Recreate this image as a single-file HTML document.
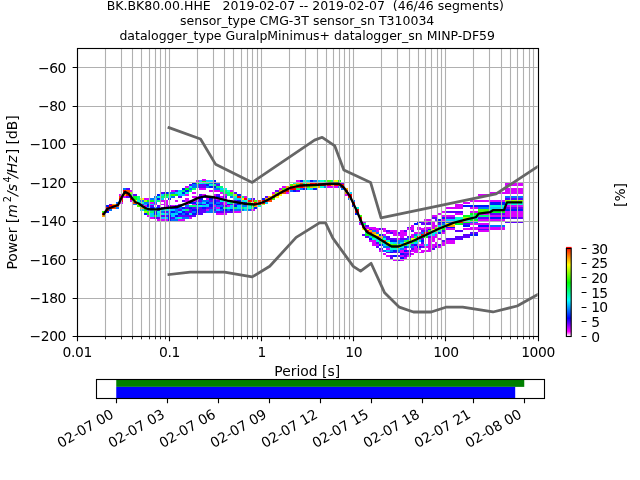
<!DOCTYPE html>
<html lang="en"><head><meta charset="utf-8"><title>PPSD BK.BK80.00.HHE</title>
<style>html,body{margin:0;padding:0;background:#fff;overflow:hidden}svg{display:block}</style></head>
<body>
<svg width="640" height="480" viewBox="0 0 640 480" font-family="DejaVu Sans, Liberation Sans, sans-serif" font-size="13.89px" fill="#000">
<rect width="640" height="480" fill="#fff"/>
<defs><clipPath id="ac"><rect x="76.8" y="48.0" width="460.8" height="288.0"/></clipPath>
<linearGradient id="cg" x1="0" y1="1" x2="0" y2="0"><stop offset="0" stop-color="#ffffff"/><stop offset="0.05" stop-color="#ff00ff"/><stop offset="0.2" stop-color="#0000ff"/><stop offset="0.4" stop-color="#00ffff"/><stop offset="0.6" stop-color="#00ff00"/><stop offset="0.8" stop-color="#ffff00"/><stop offset="1" stop-color="#ff0000"/></linearGradient></defs>
<g clip-path="url(#ac)" shape-rendering="crispEdges">
<rect x="101.90" y="213.12" width="3.52" height="1.97" fill="#ff0000"/>
<rect x="101.90" y="211.20" width="3.52" height="1.97" fill="#43ff00"/>
<rect x="101.90" y="215.04" width="3.52" height="1.97" fill="#ffa600"/>
<rect x="105.37" y="207.36" width="3.52" height="1.97" fill="#ff0000"/>
<rect x="105.37" y="209.28" width="3.52" height="1.97" fill="#ff0000"/>
<rect x="105.37" y="205.44" width="3.52" height="1.97" fill="#0016ff"/>
<rect x="105.37" y="211.20" width="3.52" height="1.97" fill="#0016ff"/>
<rect x="108.84" y="205.44" width="3.52" height="1.97" fill="#ff0000"/>
<rect x="108.84" y="207.36" width="3.52" height="1.97" fill="#ff0000"/>
<rect x="108.84" y="203.52" width="3.52" height="1.97" fill="#5e00ff"/>
<rect x="108.84" y="209.28" width="3.52" height="1.97" fill="#0073ff"/>
<rect x="112.30" y="205.44" width="3.52" height="1.97" fill="#ff0000"/>
<rect x="112.30" y="207.36" width="3.52" height="1.97" fill="#ff4a00"/>
<rect x="112.30" y="203.52" width="3.52" height="1.97" fill="#ffa600"/>
<rect x="115.77" y="203.52" width="3.52" height="1.97" fill="#ff0000"/>
<rect x="115.77" y="205.44" width="3.52" height="1.97" fill="#ff4a00"/>
<rect x="115.77" y="201.60" width="3.52" height="1.97" fill="#0073ff"/>
<rect x="115.77" y="207.36" width="3.52" height="1.97" fill="#0073ff"/>
<rect x="119.24" y="195.84" width="3.52" height="1.97" fill="#ff4a00"/>
<rect x="119.24" y="197.76" width="3.52" height="1.97" fill="#ff0000"/>
<rect x="119.24" y="199.68" width="3.52" height="1.97" fill="#ff0000"/>
<rect x="119.24" y="193.92" width="3.52" height="1.97" fill="#d900ff"/>
<rect x="119.24" y="201.60" width="3.52" height="1.97" fill="#d900ff"/>
<rect x="122.71" y="190.08" width="3.52" height="1.97" fill="#ff0000"/>
<rect x="122.71" y="192.00" width="3.52" height="1.97" fill="#ff0000"/>
<rect x="122.71" y="193.92" width="3.52" height="1.97" fill="#ffa600"/>
<rect x="122.71" y="188.16" width="3.52" height="1.97" fill="#0073ff"/>
<rect x="122.71" y="195.84" width="3.52" height="1.97" fill="#d900ff"/>
<rect x="126.18" y="190.08" width="3.52" height="1.97" fill="#ff4a00"/>
<rect x="126.18" y="192.00" width="3.52" height="1.97" fill="#ff4a00"/>
<rect x="126.18" y="193.92" width="3.52" height="1.97" fill="#ff0000"/>
<rect x="126.18" y="188.16" width="3.52" height="1.97" fill="#5e00ff"/>
<rect x="126.18" y="195.84" width="3.52" height="1.97" fill="#5e00ff"/>
<rect x="129.64" y="192.00" width="3.52" height="1.97" fill="#9fff00"/>
<rect x="129.64" y="195.84" width="3.52" height="1.97" fill="#9fff00"/>
<rect x="129.64" y="197.76" width="3.52" height="1.97" fill="#ff0000"/>
<rect x="129.64" y="190.08" width="3.52" height="1.97" fill="#d900ff"/>
<rect x="129.64" y="193.92" width="3.52" height="1.97" fill="#00ff76"/>
<rect x="129.64" y="199.68" width="3.52" height="1.97" fill="#d900ff"/>
<rect x="133.11" y="195.84" width="3.52" height="1.97" fill="#00ff1a"/>
<rect x="133.11" y="199.68" width="3.52" height="1.97" fill="#fbff00"/>
<rect x="133.11" y="201.60" width="3.52" height="1.97" fill="#ff4a00"/>
<rect x="133.11" y="193.92" width="3.52" height="1.97" fill="#5e00ff"/>
<rect x="133.11" y="197.76" width="3.52" height="1.97" fill="#00ff1a"/>
<rect x="133.11" y="203.52" width="3.52" height="1.97" fill="#0073ff"/>
<rect x="136.58" y="197.76" width="3.52" height="1.97" fill="#00ff76"/>
<rect x="136.58" y="201.60" width="3.52" height="1.97" fill="#00ffd3"/>
<rect x="136.58" y="203.52" width="3.52" height="1.97" fill="#fbff00"/>
<rect x="136.58" y="205.44" width="3.52" height="1.97" fill="#43ff00"/>
<rect x="136.58" y="195.84" width="3.52" height="1.97" fill="#00ff76"/>
<rect x="136.58" y="199.68" width="3.52" height="1.97" fill="#00ffd3"/>
<rect x="140.05" y="197.76" width="3.52" height="1.97" fill="#fbff00"/>
<rect x="140.05" y="201.60" width="3.52" height="1.97" fill="#00ffd3"/>
<rect x="140.05" y="207.36" width="3.52" height="1.97" fill="#ffa600"/>
<rect x="140.05" y="205.44" width="3.52" height="1.97" fill="#00ffd3"/>
<rect x="140.05" y="203.52" width="3.52" height="1.97" fill="#5e00ff"/>
<rect x="140.05" y="209.28" width="3.52" height="1.97" fill="#00cfff"/>
<rect x="140.05" y="199.68" width="3.52" height="1.97" fill="#0073ff"/>
<rect x="143.51" y="199.68" width="3.52" height="1.97" fill="#9fff00"/>
<rect x="143.51" y="203.52" width="3.52" height="1.97" fill="#00cfff"/>
<rect x="143.51" y="209.28" width="3.52" height="1.97" fill="#00ff1a"/>
<rect x="143.51" y="211.20" width="3.52" height="1.97" fill="#9fff00"/>
<rect x="143.51" y="207.36" width="3.52" height="1.97" fill="#0073ff"/>
<rect x="143.51" y="201.60" width="3.52" height="1.97" fill="#0073ff"/>
<rect x="143.51" y="205.44" width="3.52" height="1.97" fill="#d900ff"/>
<rect x="143.51" y="197.76" width="3.52" height="1.97" fill="#d900ff"/>
<rect x="143.51" y="213.12" width="3.52" height="1.97" fill="#0016ff"/>
<rect x="146.98" y="201.60" width="3.52" height="1.97" fill="#0073ff"/>
<rect x="146.98" y="205.44" width="3.52" height="1.97" fill="#0016ff"/>
<rect x="146.98" y="209.28" width="3.52" height="1.97" fill="#0073ff"/>
<rect x="146.98" y="211.20" width="3.52" height="1.97" fill="#43ff00"/>
<rect x="146.98" y="213.12" width="3.52" height="1.97" fill="#00ff1a"/>
<rect x="146.98" y="199.68" width="3.52" height="1.97" fill="#00ff1a"/>
<rect x="146.98" y="207.36" width="3.52" height="1.97" fill="#00cfff"/>
<rect x="146.98" y="203.52" width="3.52" height="1.97" fill="#0016ff"/>
<rect x="146.98" y="197.76" width="3.52" height="1.97" fill="#d900ff"/>
<rect x="146.98" y="215.04" width="3.52" height="1.97" fill="#d900ff"/>
<rect x="150.45" y="199.68" width="3.52" height="1.97" fill="#00ff1a"/>
<rect x="150.45" y="207.36" width="3.52" height="1.97" fill="#0016ff"/>
<rect x="150.45" y="209.28" width="3.52" height="1.97" fill="#00cfff"/>
<rect x="150.45" y="205.44" width="3.52" height="1.97" fill="#5e00ff"/>
<rect x="150.45" y="211.20" width="3.52" height="1.97" fill="#00ff76"/>
<rect x="150.45" y="213.12" width="3.52" height="1.97" fill="#00cfff"/>
<rect x="150.45" y="197.76" width="3.52" height="1.97" fill="#0073ff"/>
<rect x="150.45" y="215.04" width="3.52" height="1.97" fill="#00cfff"/>
<rect x="150.45" y="203.52" width="3.52" height="1.97" fill="#00cfff"/>
<rect x="150.45" y="201.60" width="3.52" height="1.97" fill="#d900ff"/>
<rect x="150.45" y="216.96" width="3.52" height="1.97" fill="#d900ff"/>
<rect x="153.92" y="197.76" width="3.52" height="1.97" fill="#00cfff"/>
<rect x="153.92" y="201.60" width="3.52" height="1.97" fill="#0073ff"/>
<rect x="153.92" y="209.28" width="3.52" height="1.97" fill="#00ff76"/>
<rect x="153.92" y="207.36" width="3.52" height="1.97" fill="#0073ff"/>
<rect x="153.92" y="213.12" width="3.52" height="1.97" fill="#0016ff"/>
<rect x="153.92" y="195.84" width="3.52" height="1.97" fill="#0073ff"/>
<rect x="153.92" y="199.68" width="3.52" height="1.97" fill="#00cfff"/>
<rect x="153.92" y="211.20" width="3.52" height="1.97" fill="#0016ff"/>
<rect x="153.92" y="215.04" width="3.52" height="1.97" fill="#00ff1a"/>
<rect x="153.92" y="203.52" width="3.52" height="1.97" fill="#d900ff"/>
<rect x="153.92" y="216.96" width="3.52" height="1.97" fill="#5e00ff"/>
<rect x="157.39" y="195.84" width="3.52" height="1.97" fill="#00ffd3"/>
<rect x="157.39" y="199.68" width="3.52" height="1.97" fill="#00ff76"/>
<rect x="157.39" y="205.44" width="3.52" height="1.97" fill="#5e00ff"/>
<rect x="157.39" y="211.20" width="3.52" height="1.97" fill="#00ffd3"/>
<rect x="157.39" y="213.12" width="3.52" height="1.97" fill="#00cfff"/>
<rect x="157.39" y="193.92" width="3.52" height="1.97" fill="#0016ff"/>
<rect x="157.39" y="197.76" width="3.52" height="1.97" fill="#0016ff"/>
<rect x="157.39" y="215.04" width="3.52" height="1.97" fill="#00cfff"/>
<rect x="157.39" y="207.36" width="3.52" height="1.97" fill="#0016ff"/>
<rect x="157.39" y="216.96" width="3.52" height="1.97" fill="#5e00ff"/>
<rect x="157.39" y="209.28" width="3.52" height="1.97" fill="#0016ff"/>
<rect x="157.39" y="218.88" width="3.52" height="1.97" fill="#d900ff"/>
<rect x="160.85" y="195.84" width="3.52" height="1.97" fill="#00ff76"/>
<rect x="160.85" y="203.52" width="3.52" height="1.97" fill="#d900ff"/>
<rect x="160.85" y="199.68" width="3.52" height="1.97" fill="#d900ff"/>
<rect x="160.85" y="209.28" width="3.52" height="1.97" fill="#00cfff"/>
<rect x="160.85" y="213.12" width="3.52" height="1.97" fill="#00ffd3"/>
<rect x="160.85" y="192.00" width="3.52" height="1.97" fill="#5e00ff"/>
<rect x="160.85" y="197.76" width="3.52" height="1.97" fill="#00cfff"/>
<rect x="160.85" y="215.04" width="3.52" height="1.97" fill="#5e00ff"/>
<rect x="160.85" y="207.36" width="3.52" height="1.97" fill="#5e00ff"/>
<rect x="160.85" y="211.20" width="3.52" height="1.97" fill="#0073ff"/>
<rect x="160.85" y="216.96" width="3.52" height="1.97" fill="#00cfff"/>
<rect x="160.85" y="193.92" width="3.52" height="1.97" fill="#00cfff"/>
<rect x="160.85" y="218.88" width="3.52" height="1.97" fill="#d900ff"/>
<rect x="164.32" y="195.84" width="3.52" height="1.97" fill="#00ff76"/>
<rect x="164.32" y="201.60" width="3.52" height="1.97" fill="#d900ff"/>
<rect x="164.32" y="193.92" width="3.52" height="1.97" fill="#00ff1a"/>
<rect x="164.32" y="209.28" width="3.52" height="1.97" fill="#00ffd3"/>
<rect x="164.32" y="215.04" width="3.52" height="1.97" fill="#5e00ff"/>
<rect x="164.32" y="192.00" width="3.52" height="1.97" fill="#0016ff"/>
<rect x="164.32" y="199.68" width="3.52" height="1.97" fill="#d900ff"/>
<rect x="164.32" y="213.12" width="3.52" height="1.97" fill="#00cfff"/>
<rect x="164.32" y="216.96" width="3.52" height="1.97" fill="#00cfff"/>
<rect x="164.32" y="207.36" width="3.52" height="1.97" fill="#0016ff"/>
<rect x="164.32" y="203.52" width="3.52" height="1.97" fill="#d900ff"/>
<rect x="164.32" y="211.20" width="3.52" height="1.97" fill="#5e00ff"/>
<rect x="164.32" y="218.88" width="3.52" height="1.97" fill="#d900ff"/>
<rect x="164.32" y="205.44" width="3.52" height="1.97" fill="#d900ff"/>
<rect x="167.79" y="193.92" width="3.52" height="1.97" fill="#00ff76"/>
<rect x="167.79" y="195.84" width="3.52" height="1.97" fill="#00ffd3"/>
<rect x="167.79" y="209.28" width="3.52" height="1.97" fill="#00cfff"/>
<rect x="167.79" y="215.04" width="3.52" height="1.97" fill="#0016ff"/>
<rect x="167.79" y="192.00" width="3.52" height="1.97" fill="#0073ff"/>
<rect x="167.79" y="197.76" width="3.52" height="1.97" fill="#0016ff"/>
<rect x="167.79" y="213.12" width="3.52" height="1.97" fill="#0073ff"/>
<rect x="167.79" y="218.88" width="3.52" height="1.97" fill="#0016ff"/>
<rect x="167.79" y="207.36" width="3.52" height="1.97" fill="#5e00ff"/>
<rect x="167.79" y="205.44" width="3.52" height="1.97" fill="#5e00ff"/>
<rect x="167.79" y="216.96" width="3.52" height="1.97" fill="#0016ff"/>
<rect x="167.79" y="211.20" width="3.52" height="1.97" fill="#0073ff"/>
<rect x="171.26" y="195.84" width="3.52" height="1.97" fill="#0073ff"/>
<rect x="171.26" y="192.00" width="3.52" height="1.97" fill="#0073ff"/>
<rect x="171.26" y="207.36" width="3.52" height="1.97" fill="#0016ff"/>
<rect x="171.26" y="213.12" width="3.52" height="1.97" fill="#00cfff"/>
<rect x="171.26" y="215.04" width="3.52" height="1.97" fill="#00cfff"/>
<rect x="171.26" y="193.92" width="3.52" height="1.97" fill="#43ff00"/>
<rect x="171.26" y="216.96" width="3.52" height="1.97" fill="#5e00ff"/>
<rect x="171.26" y="218.88" width="3.52" height="1.97" fill="#0073ff"/>
<rect x="171.26" y="209.28" width="3.52" height="1.97" fill="#00cfff"/>
<rect x="171.26" y="211.20" width="3.52" height="1.97" fill="#0016ff"/>
<rect x="171.26" y="190.08" width="3.52" height="1.97" fill="#d900ff"/>
<rect x="171.26" y="205.44" width="3.52" height="1.97" fill="#d900ff"/>
<rect x="174.73" y="199.68" width="3.52" height="1.97" fill="#d900ff"/>
<rect x="174.73" y="209.28" width="3.52" height="1.97" fill="#0073ff"/>
<rect x="174.73" y="192.00" width="3.52" height="1.97" fill="#00cfff"/>
<rect x="174.73" y="207.36" width="3.52" height="1.97" fill="#0016ff"/>
<rect x="174.73" y="213.12" width="3.52" height="1.97" fill="#00cfff"/>
<rect x="174.73" y="205.44" width="3.52" height="1.97" fill="#5e00ff"/>
<rect x="174.73" y="193.92" width="3.52" height="1.97" fill="#00ff1a"/>
<rect x="174.73" y="211.20" width="3.52" height="1.97" fill="#0073ff"/>
<rect x="174.73" y="216.96" width="3.52" height="1.97" fill="#00cfff"/>
<rect x="174.73" y="218.88" width="3.52" height="1.97" fill="#0073ff"/>
<rect x="174.73" y="215.04" width="3.52" height="1.97" fill="#0016ff"/>
<rect x="174.73" y="190.08" width="3.52" height="1.97" fill="#5e00ff"/>
<rect x="178.19" y="205.44" width="3.52" height="1.97" fill="#0073ff"/>
<rect x="178.19" y="192.00" width="3.52" height="1.97" fill="#00ffd3"/>
<rect x="178.19" y="195.84" width="3.52" height="1.97" fill="#5e00ff"/>
<rect x="178.19" y="211.20" width="3.52" height="1.97" fill="#00cfff"/>
<rect x="178.19" y="213.12" width="3.52" height="1.97" fill="#0016ff"/>
<rect x="178.19" y="190.08" width="3.52" height="1.97" fill="#00cfff"/>
<rect x="178.19" y="193.92" width="3.52" height="1.97" fill="#00cfff"/>
<rect x="178.19" y="207.36" width="3.52" height="1.97" fill="#0073ff"/>
<rect x="178.19" y="215.04" width="3.52" height="1.97" fill="#5e00ff"/>
<rect x="178.19" y="216.96" width="3.52" height="1.97" fill="#00ffd3"/>
<rect x="178.19" y="203.52" width="3.52" height="1.97" fill="#d900ff"/>
<rect x="178.19" y="209.28" width="3.52" height="1.97" fill="#5e00ff"/>
<rect x="178.19" y="218.88" width="3.52" height="1.97" fill="#d900ff"/>
<rect x="181.66" y="193.92" width="3.52" height="1.97" fill="#00cfff"/>
<rect x="181.66" y="203.52" width="3.52" height="1.97" fill="#0073ff"/>
<rect x="181.66" y="190.08" width="3.52" height="1.97" fill="#00ff76"/>
<rect x="181.66" y="192.00" width="3.52" height="1.97" fill="#0016ff"/>
<rect x="181.66" y="209.28" width="3.52" height="1.97" fill="#00cfff"/>
<rect x="181.66" y="213.12" width="3.52" height="1.97" fill="#0073ff"/>
<rect x="181.66" y="188.16" width="3.52" height="1.97" fill="#0016ff"/>
<rect x="181.66" y="199.68" width="3.52" height="1.97" fill="#5e00ff"/>
<rect x="181.66" y="215.04" width="3.52" height="1.97" fill="#5e00ff"/>
<rect x="181.66" y="216.96" width="3.52" height="1.97" fill="#0073ff"/>
<rect x="181.66" y="207.36" width="3.52" height="1.97" fill="#0016ff"/>
<rect x="181.66" y="211.20" width="3.52" height="1.97" fill="#0016ff"/>
<rect x="181.66" y="218.88" width="3.52" height="1.97" fill="#d900ff"/>
<rect x="185.13" y="197.76" width="3.52" height="1.97" fill="#d900ff"/>
<rect x="185.13" y="209.28" width="3.52" height="1.97" fill="#00ff76"/>
<rect x="185.13" y="188.16" width="3.52" height="1.97" fill="#00ff1a"/>
<rect x="185.13" y="192.00" width="3.52" height="1.97" fill="#00ffd3"/>
<rect x="185.13" y="203.52" width="3.52" height="1.97" fill="#d900ff"/>
<rect x="185.13" y="213.12" width="3.52" height="1.97" fill="#0016ff"/>
<rect x="185.13" y="205.44" width="3.52" height="1.97" fill="#0073ff"/>
<rect x="185.13" y="190.08" width="3.52" height="1.97" fill="#0016ff"/>
<rect x="185.13" y="207.36" width="3.52" height="1.97" fill="#5e00ff"/>
<rect x="185.13" y="215.04" width="3.52" height="1.97" fill="#5e00ff"/>
<rect x="185.13" y="216.96" width="3.52" height="1.97" fill="#0073ff"/>
<rect x="185.13" y="211.20" width="3.52" height="1.97" fill="#5e00ff"/>
<rect x="185.13" y="186.24" width="3.52" height="1.97" fill="#d900ff"/>
<rect x="185.13" y="199.68" width="3.52" height="1.97" fill="#d900ff"/>
<rect x="185.13" y="193.92" width="3.52" height="1.97" fill="#d900ff"/>
<rect x="188.60" y="205.44" width="3.52" height="1.97" fill="#00ff76"/>
<rect x="188.60" y="201.60" width="3.52" height="1.97" fill="#0016ff"/>
<rect x="188.60" y="190.08" width="3.52" height="1.97" fill="#00ff76"/>
<rect x="188.60" y="213.12" width="3.52" height="1.97" fill="#00ffd3"/>
<rect x="188.60" y="188.16" width="3.52" height="1.97" fill="#0073ff"/>
<rect x="188.60" y="186.24" width="3.52" height="1.97" fill="#00ffd3"/>
<rect x="188.60" y="209.28" width="3.52" height="1.97" fill="#5e00ff"/>
<rect x="188.60" y="207.36" width="3.52" height="1.97" fill="#0016ff"/>
<rect x="188.60" y="211.20" width="3.52" height="1.97" fill="#5e00ff"/>
<rect x="188.60" y="215.04" width="3.52" height="1.97" fill="#5e00ff"/>
<rect x="188.60" y="184.32" width="3.52" height="1.97" fill="#5e00ff"/>
<rect x="188.60" y="216.96" width="3.52" height="1.97" fill="#d900ff"/>
<rect x="188.60" y="199.68" width="3.52" height="1.97" fill="#d900ff"/>
<rect x="192.06" y="201.60" width="3.52" height="1.97" fill="#0016ff"/>
<rect x="192.06" y="188.16" width="3.52" height="1.97" fill="#00ff76"/>
<rect x="192.06" y="211.20" width="3.52" height="1.97" fill="#0073ff"/>
<rect x="192.06" y="186.24" width="3.52" height="1.97" fill="#0073ff"/>
<rect x="192.06" y="205.44" width="3.52" height="1.97" fill="#00ff76"/>
<rect x="192.06" y="213.12" width="3.52" height="1.97" fill="#0016ff"/>
<rect x="192.06" y="199.68" width="3.52" height="1.97" fill="#d900ff"/>
<rect x="192.06" y="209.28" width="3.52" height="1.97" fill="#0016ff"/>
<rect x="192.06" y="207.36" width="3.52" height="1.97" fill="#5e00ff"/>
<rect x="192.06" y="184.32" width="3.52" height="1.97" fill="#0073ff"/>
<rect x="192.06" y="182.40" width="3.52" height="1.97" fill="#0016ff"/>
<rect x="192.06" y="203.52" width="3.52" height="1.97" fill="#d900ff"/>
<rect x="192.06" y="192.00" width="3.52" height="1.97" fill="#d900ff"/>
<rect x="192.06" y="195.84" width="3.52" height="1.97" fill="#d900ff"/>
<rect x="192.06" y="215.04" width="3.52" height="1.97" fill="#5e00ff"/>
<rect x="195.53" y="195.84" width="3.52" height="1.97" fill="#d900ff"/>
<rect x="195.53" y="197.76" width="3.52" height="1.97" fill="#d900ff"/>
<rect x="195.53" y="184.32" width="3.52" height="1.97" fill="#0073ff"/>
<rect x="195.53" y="186.24" width="3.52" height="1.97" fill="#0073ff"/>
<rect x="195.53" y="201.60" width="3.52" height="1.97" fill="#00cfff"/>
<rect x="195.53" y="205.44" width="3.52" height="1.97" fill="#00cfff"/>
<rect x="195.53" y="182.40" width="3.52" height="1.97" fill="#00ff1a"/>
<rect x="195.53" y="203.52" width="3.52" height="1.97" fill="#0016ff"/>
<rect x="195.53" y="211.20" width="3.52" height="1.97" fill="#0016ff"/>
<rect x="195.53" y="207.36" width="3.52" height="1.97" fill="#0073ff"/>
<rect x="195.53" y="209.28" width="3.52" height="1.97" fill="#0016ff"/>
<rect x="195.53" y="180.48" width="3.52" height="1.97" fill="#d900ff"/>
<rect x="195.53" y="199.68" width="3.52" height="1.97" fill="#5e00ff"/>
<rect x="195.53" y="213.12" width="3.52" height="1.97" fill="#5e00ff"/>
<rect x="199.00" y="188.16" width="3.52" height="1.97" fill="#d900ff"/>
<rect x="199.00" y="195.84" width="3.52" height="1.97" fill="#5e00ff"/>
<rect x="199.00" y="182.40" width="3.52" height="1.97" fill="#00ffd3"/>
<rect x="199.00" y="197.76" width="3.52" height="1.97" fill="#0016ff"/>
<rect x="199.00" y="205.44" width="3.52" height="1.97" fill="#00ffd3"/>
<rect x="199.00" y="180.48" width="3.52" height="1.97" fill="#00cfff"/>
<rect x="199.00" y="203.52" width="3.52" height="1.97" fill="#0016ff"/>
<rect x="199.00" y="186.24" width="3.52" height="1.97" fill="#5e00ff"/>
<rect x="199.00" y="193.92" width="3.52" height="1.97" fill="#5e00ff"/>
<rect x="199.00" y="209.28" width="3.52" height="1.97" fill="#5e00ff"/>
<rect x="199.00" y="207.36" width="3.52" height="1.97" fill="#5e00ff"/>
<rect x="199.00" y="201.60" width="3.52" height="1.97" fill="#0073ff"/>
<rect x="199.00" y="211.20" width="3.52" height="1.97" fill="#5e00ff"/>
<rect x="199.00" y="199.68" width="3.52" height="1.97" fill="#5e00ff"/>
<rect x="199.00" y="184.32" width="3.52" height="1.97" fill="#5e00ff"/>
<rect x="199.00" y="213.12" width="3.52" height="1.97" fill="#5e00ff"/>
<rect x="202.47" y="186.24" width="3.52" height="1.97" fill="#5e00ff"/>
<rect x="202.47" y="195.84" width="3.52" height="1.97" fill="#0016ff"/>
<rect x="202.47" y="182.40" width="3.52" height="1.97" fill="#00cfff"/>
<rect x="202.47" y="184.32" width="3.52" height="1.97" fill="#5e00ff"/>
<rect x="202.47" y="207.36" width="3.52" height="1.97" fill="#0016ff"/>
<rect x="202.47" y="180.48" width="3.52" height="1.97" fill="#00ff1a"/>
<rect x="202.47" y="203.52" width="3.52" height="1.97" fill="#5e00ff"/>
<rect x="202.47" y="193.92" width="3.52" height="1.97" fill="#d900ff"/>
<rect x="202.47" y="205.44" width="3.52" height="1.97" fill="#00cfff"/>
<rect x="202.47" y="201.60" width="3.52" height="1.97" fill="#00cfff"/>
<rect x="202.47" y="209.28" width="3.52" height="1.97" fill="#5e00ff"/>
<rect x="202.47" y="199.68" width="3.52" height="1.97" fill="#0073ff"/>
<rect x="202.47" y="178.56" width="3.52" height="1.97" fill="#d900ff"/>
<rect x="202.47" y="211.20" width="3.52" height="1.97" fill="#5e00ff"/>
<rect x="202.47" y="188.16" width="3.52" height="1.97" fill="#d900ff"/>
<rect x="205.94" y="199.68" width="3.52" height="1.97" fill="#0073ff"/>
<rect x="205.94" y="184.32" width="3.52" height="1.97" fill="#0016ff"/>
<rect x="205.94" y="182.40" width="3.52" height="1.97" fill="#00ff76"/>
<rect x="205.94" y="201.60" width="3.52" height="1.97" fill="#0016ff"/>
<rect x="205.94" y="207.36" width="3.52" height="1.97" fill="#5e00ff"/>
<rect x="205.94" y="180.48" width="3.52" height="1.97" fill="#00cfff"/>
<rect x="205.94" y="186.24" width="3.52" height="1.97" fill="#0073ff"/>
<rect x="205.94" y="205.44" width="3.52" height="1.97" fill="#00cfff"/>
<rect x="205.94" y="203.52" width="3.52" height="1.97" fill="#00cfff"/>
<rect x="205.94" y="209.28" width="3.52" height="1.97" fill="#d900ff"/>
<rect x="205.94" y="195.84" width="3.52" height="1.97" fill="#5e00ff"/>
<rect x="205.94" y="211.20" width="3.52" height="1.97" fill="#0073ff"/>
<rect x="205.94" y="197.76" width="3.52" height="1.97" fill="#d900ff"/>
<rect x="209.40" y="195.84" width="3.52" height="1.97" fill="#5e00ff"/>
<rect x="209.40" y="197.76" width="3.52" height="1.97" fill="#0016ff"/>
<rect x="209.40" y="184.32" width="3.52" height="1.97" fill="#00ffd3"/>
<rect x="209.40" y="182.40" width="3.52" height="1.97" fill="#0073ff"/>
<rect x="209.40" y="203.52" width="3.52" height="1.97" fill="#0016ff"/>
<rect x="209.40" y="209.28" width="3.52" height="1.97" fill="#0073ff"/>
<rect x="209.40" y="205.44" width="3.52" height="1.97" fill="#0016ff"/>
<rect x="209.40" y="199.68" width="3.52" height="1.97" fill="#5e00ff"/>
<rect x="209.40" y="207.36" width="3.52" height="1.97" fill="#5e00ff"/>
<rect x="209.40" y="201.60" width="3.52" height="1.97" fill="#0073ff"/>
<rect x="209.40" y="186.24" width="3.52" height="1.97" fill="#0016ff"/>
<rect x="209.40" y="180.48" width="3.52" height="1.97" fill="#00cfff"/>
<rect x="209.40" y="211.20" width="3.52" height="1.97" fill="#0073ff"/>
<rect x="209.40" y="190.08" width="3.52" height="1.97" fill="#d900ff"/>
<rect x="212.87" y="201.60" width="3.52" height="1.97" fill="#0016ff"/>
<rect x="212.87" y="197.76" width="3.52" height="1.97" fill="#5e00ff"/>
<rect x="212.87" y="186.24" width="3.52" height="1.97" fill="#0016ff"/>
<rect x="212.87" y="184.32" width="3.52" height="1.97" fill="#00ff76"/>
<rect x="212.87" y="199.68" width="3.52" height="1.97" fill="#0016ff"/>
<rect x="212.87" y="207.36" width="3.52" height="1.97" fill="#0073ff"/>
<rect x="212.87" y="203.52" width="3.52" height="1.97" fill="#0073ff"/>
<rect x="212.87" y="190.08" width="3.52" height="1.97" fill="#d900ff"/>
<rect x="212.87" y="209.28" width="3.52" height="1.97" fill="#5e00ff"/>
<rect x="212.87" y="188.16" width="3.52" height="1.97" fill="#0073ff"/>
<rect x="212.87" y="182.40" width="3.52" height="1.97" fill="#0016ff"/>
<rect x="212.87" y="180.48" width="3.52" height="1.97" fill="#0016ff"/>
<rect x="212.87" y="193.92" width="3.52" height="1.97" fill="#d900ff"/>
<rect x="212.87" y="211.20" width="3.52" height="1.97" fill="#0073ff"/>
<rect x="212.87" y="205.44" width="3.52" height="1.97" fill="#d900ff"/>
<rect x="212.87" y="195.84" width="3.52" height="1.97" fill="#d900ff"/>
<rect x="216.34" y="203.52" width="3.52" height="1.97" fill="#0016ff"/>
<rect x="216.34" y="199.68" width="3.52" height="1.97" fill="#5e00ff"/>
<rect x="216.34" y="186.24" width="3.52" height="1.97" fill="#00ff76"/>
<rect x="216.34" y="201.60" width="3.52" height="1.97" fill="#0073ff"/>
<rect x="216.34" y="209.28" width="3.52" height="1.97" fill="#00cfff"/>
<rect x="216.34" y="184.32" width="3.52" height="1.97" fill="#5e00ff"/>
<rect x="216.34" y="188.16" width="3.52" height="1.97" fill="#0073ff"/>
<rect x="216.34" y="195.84" width="3.52" height="1.97" fill="#0016ff"/>
<rect x="216.34" y="205.44" width="3.52" height="1.97" fill="#0073ff"/>
<rect x="216.34" y="190.08" width="3.52" height="1.97" fill="#d900ff"/>
<rect x="216.34" y="182.40" width="3.52" height="1.97" fill="#0073ff"/>
<rect x="216.34" y="207.36" width="3.52" height="1.97" fill="#d900ff"/>
<rect x="216.34" y="193.92" width="3.52" height="1.97" fill="#5e00ff"/>
<rect x="216.34" y="211.20" width="3.52" height="1.97" fill="#5e00ff"/>
<rect x="216.34" y="213.12" width="3.52" height="1.97" fill="#d900ff"/>
<rect x="216.34" y="197.76" width="3.52" height="1.97" fill="#d900ff"/>
<rect x="219.81" y="199.68" width="3.52" height="1.97" fill="#00ffd3"/>
<rect x="219.81" y="201.60" width="3.52" height="1.97" fill="#5e00ff"/>
<rect x="219.81" y="188.16" width="3.52" height="1.97" fill="#00cfff"/>
<rect x="219.81" y="190.08" width="3.52" height="1.97" fill="#00ff76"/>
<rect x="219.81" y="207.36" width="3.52" height="1.97" fill="#0016ff"/>
<rect x="219.81" y="186.24" width="3.52" height="1.97" fill="#00ff76"/>
<rect x="219.81" y="197.76" width="3.52" height="1.97" fill="#d900ff"/>
<rect x="219.81" y="205.44" width="3.52" height="1.97" fill="#0073ff"/>
<rect x="219.81" y="209.28" width="3.52" height="1.97" fill="#0073ff"/>
<rect x="219.81" y="192.00" width="3.52" height="1.97" fill="#d900ff"/>
<rect x="219.81" y="195.84" width="3.52" height="1.97" fill="#d900ff"/>
<rect x="219.81" y="203.52" width="3.52" height="1.97" fill="#5e00ff"/>
<rect x="219.81" y="211.20" width="3.52" height="1.97" fill="#5e00ff"/>
<rect x="219.81" y="213.12" width="3.52" height="1.97" fill="#d900ff"/>
<rect x="223.28" y="197.76" width="3.52" height="1.97" fill="#d900ff"/>
<rect x="223.28" y="199.68" width="3.52" height="1.97" fill="#00cfff"/>
<rect x="223.28" y="192.00" width="3.52" height="1.97" fill="#00ff76"/>
<rect x="223.28" y="207.36" width="3.52" height="1.97" fill="#00ff76"/>
<rect x="223.28" y="190.08" width="3.52" height="1.97" fill="#00ff76"/>
<rect x="223.28" y="195.84" width="3.52" height="1.97" fill="#5e00ff"/>
<rect x="223.28" y="205.44" width="3.52" height="1.97" fill="#5e00ff"/>
<rect x="223.28" y="203.52" width="3.52" height="1.97" fill="#d900ff"/>
<rect x="223.28" y="193.92" width="3.52" height="1.97" fill="#d900ff"/>
<rect x="223.28" y="209.28" width="3.52" height="1.97" fill="#0016ff"/>
<rect x="223.28" y="188.16" width="3.52" height="1.97" fill="#00ffd3"/>
<rect x="223.28" y="211.20" width="3.52" height="1.97" fill="#5e00ff"/>
<rect x="223.28" y="213.12" width="3.52" height="1.97" fill="#d900ff"/>
<rect x="223.28" y="201.60" width="3.52" height="1.97" fill="#d900ff"/>
<rect x="226.74" y="193.92" width="3.52" height="1.97" fill="#00ff76"/>
<rect x="226.74" y="199.68" width="3.52" height="1.97" fill="#0073ff"/>
<rect x="226.74" y="201.60" width="3.52" height="1.97" fill="#00ffd3"/>
<rect x="226.74" y="207.36" width="3.52" height="1.97" fill="#00ffd3"/>
<rect x="226.74" y="190.08" width="3.52" height="1.97" fill="#00ffd3"/>
<rect x="226.74" y="203.52" width="3.52" height="1.97" fill="#0016ff"/>
<rect x="226.74" y="209.28" width="3.52" height="1.97" fill="#0073ff"/>
<rect x="226.74" y="192.00" width="3.52" height="1.97" fill="#00ff76"/>
<rect x="226.74" y="205.44" width="3.52" height="1.97" fill="#d900ff"/>
<rect x="226.74" y="211.20" width="3.52" height="1.97" fill="#5e00ff"/>
<rect x="230.21" y="195.84" width="3.52" height="1.97" fill="#0073ff"/>
<rect x="230.21" y="203.52" width="3.52" height="1.97" fill="#5e00ff"/>
<rect x="230.21" y="201.60" width="3.52" height="1.97" fill="#00ff76"/>
<rect x="230.21" y="193.92" width="3.52" height="1.97" fill="#00ff76"/>
<rect x="230.21" y="207.36" width="3.52" height="1.97" fill="#00cfff"/>
<rect x="230.21" y="192.00" width="3.52" height="1.97" fill="#43ff00"/>
<rect x="230.21" y="205.44" width="3.52" height="1.97" fill="#00cfff"/>
<rect x="230.21" y="199.68" width="3.52" height="1.97" fill="#d900ff"/>
<rect x="230.21" y="209.28" width="3.52" height="1.97" fill="#0016ff"/>
<rect x="230.21" y="190.08" width="3.52" height="1.97" fill="#d900ff"/>
<rect x="230.21" y="211.20" width="3.52" height="1.97" fill="#5e00ff"/>
<rect x="233.68" y="197.76" width="3.52" height="1.97" fill="#00cfff"/>
<rect x="233.68" y="201.60" width="3.52" height="1.97" fill="#0073ff"/>
<rect x="233.68" y="193.92" width="3.52" height="1.97" fill="#9fff00"/>
<rect x="233.68" y="207.36" width="3.52" height="1.97" fill="#00ff76"/>
<rect x="233.68" y="205.44" width="3.52" height="1.97" fill="#0016ff"/>
<rect x="233.68" y="209.28" width="3.52" height="1.97" fill="#0073ff"/>
<rect x="233.68" y="203.52" width="3.52" height="1.97" fill="#5e00ff"/>
<rect x="233.68" y="195.84" width="3.52" height="1.97" fill="#00ffd3"/>
<rect x="233.68" y="192.00" width="3.52" height="1.97" fill="#5e00ff"/>
<rect x="233.68" y="199.68" width="3.52" height="1.97" fill="#5e00ff"/>
<rect x="233.68" y="211.20" width="3.52" height="1.97" fill="#d900ff"/>
<rect x="237.15" y="195.84" width="3.52" height="1.97" fill="#ff0000"/>
<rect x="237.15" y="199.68" width="3.52" height="1.97" fill="#0016ff"/>
<rect x="237.15" y="197.76" width="3.52" height="1.97" fill="#00cfff"/>
<rect x="237.15" y="205.44" width="3.52" height="1.97" fill="#00cfff"/>
<rect x="237.15" y="207.36" width="3.52" height="1.97" fill="#00cfff"/>
<rect x="237.15" y="193.92" width="3.52" height="1.97" fill="#0016ff"/>
<rect x="237.15" y="203.52" width="3.52" height="1.97" fill="#0016ff"/>
<rect x="237.15" y="209.28" width="3.52" height="1.97" fill="#0073ff"/>
<rect x="237.15" y="201.60" width="3.52" height="1.97" fill="#0016ff"/>
<rect x="237.15" y="211.20" width="3.52" height="1.97" fill="#d900ff"/>
<rect x="240.61" y="197.76" width="3.52" height="1.97" fill="#fbff00"/>
<rect x="240.61" y="203.52" width="3.52" height="1.97" fill="#00ff76"/>
<rect x="240.61" y="199.68" width="3.52" height="1.97" fill="#00cfff"/>
<rect x="240.61" y="209.28" width="3.52" height="1.97" fill="#0073ff"/>
<rect x="240.61" y="195.84" width="3.52" height="1.97" fill="#00ff76"/>
<rect x="240.61" y="205.44" width="3.52" height="1.97" fill="#0073ff"/>
<rect x="240.61" y="207.36" width="3.52" height="1.97" fill="#00ff76"/>
<rect x="240.61" y="201.60" width="3.52" height="1.97" fill="#d900ff"/>
<rect x="244.08" y="197.76" width="3.52" height="1.97" fill="#ff0000"/>
<rect x="244.08" y="203.52" width="3.52" height="1.97" fill="#00ff76"/>
<rect x="244.08" y="207.36" width="3.52" height="1.97" fill="#00ffd3"/>
<rect x="244.08" y="201.60" width="3.52" height="1.97" fill="#0016ff"/>
<rect x="244.08" y="209.28" width="3.52" height="1.97" fill="#00cfff"/>
<rect x="244.08" y="195.84" width="3.52" height="1.97" fill="#d900ff"/>
<rect x="244.08" y="199.68" width="3.52" height="1.97" fill="#00ffd3"/>
<rect x="244.08" y="205.44" width="3.52" height="1.97" fill="#0073ff"/>
<rect x="247.55" y="199.68" width="3.52" height="1.97" fill="#ff0000"/>
<rect x="247.55" y="201.60" width="3.52" height="1.97" fill="#43ff00"/>
<rect x="247.55" y="205.44" width="3.52" height="1.97" fill="#00ffd3"/>
<rect x="247.55" y="209.28" width="3.52" height="1.97" fill="#0073ff"/>
<rect x="247.55" y="197.76" width="3.52" height="1.97" fill="#00cfff"/>
<rect x="247.55" y="207.36" width="3.52" height="1.97" fill="#00ffd3"/>
<rect x="247.55" y="203.52" width="3.52" height="1.97" fill="#5e00ff"/>
<rect x="251.02" y="199.68" width="3.52" height="1.97" fill="#ff0000"/>
<rect x="251.02" y="203.52" width="3.52" height="1.97" fill="#0016ff"/>
<rect x="251.02" y="205.44" width="3.52" height="1.97" fill="#00ff1a"/>
<rect x="251.02" y="201.60" width="3.52" height="1.97" fill="#fbff00"/>
<rect x="251.02" y="207.36" width="3.52" height="1.97" fill="#00ff76"/>
<rect x="251.02" y="197.76" width="3.52" height="1.97" fill="#5e00ff"/>
<rect x="251.02" y="209.28" width="3.52" height="1.97" fill="#d900ff"/>
<rect x="254.49" y="201.60" width="3.52" height="1.97" fill="#ff0000"/>
<rect x="254.49" y="203.52" width="3.52" height="1.97" fill="#00ffd3"/>
<rect x="254.49" y="205.44" width="3.52" height="1.97" fill="#ffa600"/>
<rect x="254.49" y="199.68" width="3.52" height="1.97" fill="#43ff00"/>
<rect x="254.49" y="207.36" width="3.52" height="1.97" fill="#0016ff"/>
<rect x="257.95" y="201.60" width="3.52" height="1.97" fill="#ff4a00"/>
<rect x="257.95" y="203.52" width="3.52" height="1.97" fill="#ff0000"/>
<rect x="257.95" y="199.68" width="3.52" height="1.97" fill="#ff4a00"/>
<rect x="257.95" y="205.44" width="3.52" height="1.97" fill="#00ffd3"/>
<rect x="261.42" y="199.68" width="3.52" height="1.97" fill="#ff0000"/>
<rect x="261.42" y="201.60" width="3.52" height="1.97" fill="#ff0000"/>
<rect x="261.42" y="203.52" width="3.52" height="1.97" fill="#9fff00"/>
<rect x="261.42" y="197.76" width="3.52" height="1.97" fill="#0016ff"/>
<rect x="264.89" y="197.76" width="3.52" height="1.97" fill="#ffa600"/>
<rect x="264.89" y="199.68" width="3.52" height="1.97" fill="#ff0000"/>
<rect x="264.89" y="201.60" width="3.52" height="1.97" fill="#00cfff"/>
<rect x="264.89" y="195.84" width="3.52" height="1.97" fill="#5e00ff"/>
<rect x="268.36" y="197.76" width="3.52" height="1.97" fill="#ff0000"/>
<rect x="268.36" y="199.68" width="3.52" height="1.97" fill="#ff4a00"/>
<rect x="268.36" y="195.84" width="3.52" height="1.97" fill="#ffa600"/>
<rect x="271.83" y="193.92" width="3.52" height="1.97" fill="#ffa600"/>
<rect x="271.83" y="195.84" width="3.52" height="1.97" fill="#ff0000"/>
<rect x="271.83" y="197.76" width="3.52" height="1.97" fill="#43ff00"/>
<rect x="271.83" y="192.00" width="3.52" height="1.97" fill="#d900ff"/>
<rect x="275.29" y="193.92" width="3.52" height="1.97" fill="#ff0000"/>
<rect x="275.29" y="195.84" width="3.52" height="1.97" fill="#fbff00"/>
<rect x="275.29" y="190.08" width="3.52" height="1.97" fill="#5e00ff"/>
<rect x="275.29" y="192.00" width="3.52" height="1.97" fill="#9fff00"/>
<rect x="278.76" y="192.00" width="3.52" height="1.97" fill="#ff0000"/>
<rect x="278.76" y="193.92" width="3.52" height="1.97" fill="#fbff00"/>
<rect x="278.76" y="190.08" width="3.52" height="1.97" fill="#ffa600"/>
<rect x="278.76" y="188.16" width="3.52" height="1.97" fill="#d900ff"/>
<rect x="282.23" y="190.08" width="3.52" height="1.97" fill="#ff0000"/>
<rect x="282.23" y="188.16" width="3.52" height="1.97" fill="#43ff00"/>
<rect x="282.23" y="192.00" width="3.52" height="1.97" fill="#ff4a00"/>
<rect x="282.23" y="186.24" width="3.52" height="1.97" fill="#d900ff"/>
<rect x="285.70" y="188.16" width="3.52" height="1.97" fill="#ff0000"/>
<rect x="285.70" y="190.08" width="3.52" height="1.97" fill="#ff0000"/>
<rect x="285.70" y="186.24" width="3.52" height="1.97" fill="#ffa600"/>
<rect x="285.70" y="192.00" width="3.52" height="1.97" fill="#d900ff"/>
<rect x="289.16" y="186.24" width="3.52" height="1.97" fill="#ff0000"/>
<rect x="289.16" y="188.16" width="3.52" height="1.97" fill="#ff0000"/>
<rect x="289.16" y="184.32" width="3.52" height="1.97" fill="#43ff00"/>
<rect x="289.16" y="190.08" width="3.52" height="1.97" fill="#0073ff"/>
<rect x="292.63" y="186.24" width="3.52" height="1.97" fill="#43ff00"/>
<rect x="292.63" y="184.32" width="3.52" height="1.97" fill="#ffa600"/>
<rect x="292.63" y="188.16" width="3.52" height="1.97" fill="#ff0000"/>
<rect x="292.63" y="182.40" width="3.52" height="1.97" fill="#00ffd3"/>
<rect x="292.63" y="190.08" width="3.52" height="1.97" fill="#0016ff"/>
<rect x="296.10" y="184.32" width="3.52" height="1.97" fill="#00ff1a"/>
<rect x="296.10" y="182.40" width="3.52" height="1.97" fill="#ffa600"/>
<rect x="296.10" y="186.24" width="3.52" height="1.97" fill="#ff0000"/>
<rect x="296.10" y="188.16" width="3.52" height="1.97" fill="#00ff76"/>
<rect x="296.10" y="180.48" width="3.52" height="1.97" fill="#d900ff"/>
<rect x="296.10" y="190.08" width="3.52" height="1.97" fill="#5e00ff"/>
<rect x="299.57" y="184.32" width="3.52" height="1.97" fill="#ffa600"/>
<rect x="299.57" y="182.40" width="3.52" height="1.97" fill="#ff4a00"/>
<rect x="299.57" y="186.24" width="3.52" height="1.97" fill="#ff0000"/>
<rect x="299.57" y="188.16" width="3.52" height="1.97" fill="#0073ff"/>
<rect x="299.57" y="180.48" width="3.52" height="1.97" fill="#0016ff"/>
<rect x="303.04" y="182.40" width="3.52" height="1.97" fill="#00ff76"/>
<rect x="303.04" y="184.32" width="3.52" height="1.97" fill="#ff0000"/>
<rect x="303.04" y="180.48" width="3.52" height="1.97" fill="#00ffd3"/>
<rect x="303.04" y="186.24" width="3.52" height="1.97" fill="#ff4a00"/>
<rect x="303.04" y="188.16" width="3.52" height="1.97" fill="#0016ff"/>
<rect x="306.50" y="182.40" width="3.52" height="1.97" fill="#ffa600"/>
<rect x="306.50" y="184.32" width="3.52" height="1.97" fill="#ff0000"/>
<rect x="306.50" y="180.48" width="3.52" height="1.97" fill="#00cfff"/>
<rect x="306.50" y="186.24" width="3.52" height="1.97" fill="#43ff00"/>
<rect x="306.50" y="188.16" width="3.52" height="1.97" fill="#00ffd3"/>
<rect x="309.97" y="182.40" width="3.52" height="1.97" fill="#ff0000"/>
<rect x="309.97" y="184.32" width="3.52" height="1.97" fill="#fbff00"/>
<rect x="309.97" y="186.24" width="3.52" height="1.97" fill="#ffa600"/>
<rect x="309.97" y="188.16" width="3.52" height="1.97" fill="#00cfff"/>
<rect x="309.97" y="180.48" width="3.52" height="1.97" fill="#0016ff"/>
<rect x="313.44" y="182.40" width="3.52" height="1.97" fill="#ff0000"/>
<rect x="313.44" y="186.24" width="3.52" height="1.97" fill="#9fff00"/>
<rect x="313.44" y="184.32" width="3.52" height="1.97" fill="#ffa600"/>
<rect x="313.44" y="180.48" width="3.52" height="1.97" fill="#0073ff"/>
<rect x="313.44" y="188.16" width="3.52" height="1.97" fill="#0016ff"/>
<rect x="316.91" y="182.40" width="3.52" height="1.97" fill="#ff0000"/>
<rect x="316.91" y="186.24" width="3.52" height="1.97" fill="#ffa600"/>
<rect x="316.91" y="184.32" width="3.52" height="1.97" fill="#ff4a00"/>
<rect x="316.91" y="180.48" width="3.52" height="1.97" fill="#00cfff"/>
<rect x="320.38" y="182.40" width="3.52" height="1.97" fill="#ff0000"/>
<rect x="320.38" y="184.32" width="3.52" height="1.97" fill="#ff0000"/>
<rect x="320.38" y="180.48" width="3.52" height="1.97" fill="#00ffd3"/>
<rect x="320.38" y="186.24" width="3.52" height="1.97" fill="#00ffd3"/>
<rect x="323.84" y="182.40" width="3.52" height="1.97" fill="#ff0000"/>
<rect x="323.84" y="184.32" width="3.52" height="1.97" fill="#ff0000"/>
<rect x="323.84" y="180.48" width="3.52" height="1.97" fill="#00ff76"/>
<rect x="323.84" y="186.24" width="3.52" height="1.97" fill="#0073ff"/>
<rect x="327.31" y="182.40" width="3.52" height="1.97" fill="#ff0000"/>
<rect x="327.31" y="184.32" width="3.52" height="1.97" fill="#ff0000"/>
<rect x="327.31" y="180.48" width="3.52" height="1.97" fill="#43ff00"/>
<rect x="327.31" y="186.24" width="3.52" height="1.97" fill="#d900ff"/>
<rect x="330.78" y="182.40" width="3.52" height="1.97" fill="#ff0000"/>
<rect x="330.78" y="184.32" width="3.52" height="1.97" fill="#ffa600"/>
<rect x="330.78" y="180.48" width="3.52" height="1.97" fill="#00ff76"/>
<rect x="330.78" y="186.24" width="3.52" height="1.97" fill="#d900ff"/>
<rect x="334.25" y="180.48" width="3.52" height="1.97" fill="#fbff00"/>
<rect x="334.25" y="182.40" width="3.52" height="1.97" fill="#ff0000"/>
<rect x="334.25" y="184.32" width="3.52" height="1.97" fill="#ff0000"/>
<rect x="334.25" y="186.24" width="3.52" height="1.97" fill="#d900ff"/>
<rect x="337.71" y="182.40" width="3.52" height="1.97" fill="#ff0000"/>
<rect x="337.71" y="184.32" width="3.52" height="1.97" fill="#ff0000"/>
<rect x="337.71" y="186.24" width="3.52" height="1.97" fill="#0073ff"/>
<rect x="337.71" y="180.48" width="3.52" height="1.97" fill="#00ff1a"/>
<rect x="341.18" y="184.32" width="3.52" height="1.97" fill="#ff0000"/>
<rect x="341.18" y="186.24" width="3.52" height="1.97" fill="#ff0000"/>
<rect x="341.18" y="188.16" width="3.52" height="1.97" fill="#0073ff"/>
<rect x="341.18" y="182.40" width="3.52" height="1.97" fill="#5e00ff"/>
<rect x="344.65" y="188.16" width="3.52" height="1.97" fill="#ffa600"/>
<rect x="344.65" y="190.08" width="3.52" height="1.97" fill="#ff0000"/>
<rect x="344.65" y="192.00" width="3.52" height="1.97" fill="#ffa600"/>
<rect x="344.65" y="193.92" width="3.52" height="1.97" fill="#d900ff"/>
<rect x="348.12" y="193.92" width="3.52" height="1.97" fill="#ff0000"/>
<rect x="348.12" y="195.84" width="3.52" height="1.97" fill="#ff0000"/>
<rect x="348.12" y="192.00" width="3.52" height="1.97" fill="#00cfff"/>
<rect x="348.12" y="197.76" width="3.52" height="1.97" fill="#0073ff"/>
<rect x="351.59" y="201.60" width="3.52" height="1.97" fill="#ff0000"/>
<rect x="351.59" y="203.52" width="3.52" height="1.97" fill="#ff0000"/>
<rect x="351.59" y="199.68" width="3.52" height="1.97" fill="#0073ff"/>
<rect x="351.59" y="205.44" width="3.52" height="1.97" fill="#0016ff"/>
<rect x="355.05" y="209.28" width="3.52" height="1.97" fill="#ff0000"/>
<rect x="355.05" y="211.20" width="3.52" height="1.97" fill="#ff0000"/>
<rect x="355.05" y="207.36" width="3.52" height="1.97" fill="#00ffd3"/>
<rect x="355.05" y="213.12" width="3.52" height="1.97" fill="#0016ff"/>
<rect x="358.52" y="216.96" width="3.52" height="1.97" fill="#ff0000"/>
<rect x="358.52" y="218.88" width="3.52" height="1.97" fill="#ff0000"/>
<rect x="358.52" y="220.80" width="3.52" height="1.97" fill="#0073ff"/>
<rect x="358.52" y="215.04" width="3.52" height="1.97" fill="#43ff00"/>
<rect x="358.52" y="222.72" width="3.52" height="1.97" fill="#d900ff"/>
<rect x="361.99" y="224.64" width="3.52" height="1.97" fill="#ffa600"/>
<rect x="361.99" y="226.56" width="3.52" height="1.97" fill="#ff4a00"/>
<rect x="361.99" y="222.72" width="3.52" height="1.97" fill="#00ff76"/>
<rect x="361.99" y="228.48" width="3.52" height="1.97" fill="#fbff00"/>
<rect x="361.99" y="234.24" width="3.52" height="1.97" fill="#5e00ff"/>
<rect x="361.99" y="220.80" width="3.52" height="1.97" fill="#d900ff"/>
<rect x="365.46" y="228.48" width="3.52" height="1.97" fill="#fbff00"/>
<rect x="365.46" y="230.40" width="3.52" height="1.97" fill="#ff0000"/>
<rect x="365.46" y="234.24" width="3.52" height="1.97" fill="#00ff1a"/>
<rect x="365.46" y="224.64" width="3.52" height="1.97" fill="#5e00ff"/>
<rect x="365.46" y="232.32" width="3.52" height="1.97" fill="#00ff76"/>
<rect x="365.46" y="236.16" width="3.52" height="1.97" fill="#5e00ff"/>
<rect x="365.46" y="226.56" width="3.52" height="1.97" fill="#d900ff"/>
<rect x="368.93" y="230.40" width="3.52" height="1.97" fill="#ffa600"/>
<rect x="368.93" y="232.32" width="3.52" height="1.97" fill="#ff0000"/>
<rect x="368.93" y="236.16" width="3.52" height="1.97" fill="#00cfff"/>
<rect x="368.93" y="228.48" width="3.52" height="1.97" fill="#5e00ff"/>
<rect x="368.93" y="234.24" width="3.52" height="1.97" fill="#00ff1a"/>
<rect x="368.93" y="238.08" width="3.52" height="1.97" fill="#0016ff"/>
<rect x="368.93" y="240.00" width="3.52" height="1.97" fill="#d900ff"/>
<rect x="368.93" y="226.56" width="3.52" height="1.97" fill="#d900ff"/>
<rect x="372.39" y="232.32" width="3.52" height="1.97" fill="#ffa600"/>
<rect x="372.39" y="234.24" width="3.52" height="1.97" fill="#fbff00"/>
<rect x="372.39" y="236.16" width="3.52" height="1.97" fill="#00ff1a"/>
<rect x="372.39" y="230.40" width="3.52" height="1.97" fill="#0073ff"/>
<rect x="372.39" y="240.00" width="3.52" height="1.97" fill="#d900ff"/>
<rect x="372.39" y="238.08" width="3.52" height="1.97" fill="#00ffd3"/>
<rect x="372.39" y="243.84" width="3.52" height="1.97" fill="#d900ff"/>
<rect x="372.39" y="226.56" width="3.52" height="1.97" fill="#d900ff"/>
<rect x="372.39" y="241.92" width="3.52" height="1.97" fill="#d900ff"/>
<rect x="372.39" y="228.48" width="3.52" height="1.97" fill="#d900ff"/>
<rect x="375.86" y="234.24" width="3.52" height="1.97" fill="#fbff00"/>
<rect x="375.86" y="236.16" width="3.52" height="1.97" fill="#ff4a00"/>
<rect x="375.86" y="240.00" width="3.52" height="1.97" fill="#00ffd3"/>
<rect x="375.86" y="232.32" width="3.52" height="1.97" fill="#0073ff"/>
<rect x="375.86" y="238.08" width="3.52" height="1.97" fill="#00cfff"/>
<rect x="375.86" y="241.92" width="3.52" height="1.97" fill="#5e00ff"/>
<rect x="375.86" y="245.76" width="3.52" height="1.97" fill="#5e00ff"/>
<rect x="375.86" y="230.40" width="3.52" height="1.97" fill="#d900ff"/>
<rect x="375.86" y="243.84" width="3.52" height="1.97" fill="#d900ff"/>
<rect x="375.86" y="228.48" width="3.52" height="1.97" fill="#d900ff"/>
<rect x="379.33" y="236.16" width="3.52" height="1.97" fill="#ffa600"/>
<rect x="379.33" y="240.00" width="3.52" height="1.97" fill="#00ff76"/>
<rect x="379.33" y="238.08" width="3.52" height="1.97" fill="#43ff00"/>
<rect x="379.33" y="241.92" width="3.52" height="1.97" fill="#00ff76"/>
<rect x="379.33" y="243.84" width="3.52" height="1.97" fill="#0016ff"/>
<rect x="379.33" y="234.24" width="3.52" height="1.97" fill="#0016ff"/>
<rect x="379.33" y="249.60" width="3.52" height="1.97" fill="#d900ff"/>
<rect x="379.33" y="247.68" width="3.52" height="1.97" fill="#5e00ff"/>
<rect x="379.33" y="228.48" width="3.52" height="1.97" fill="#5e00ff"/>
<rect x="382.80" y="240.00" width="3.52" height="1.97" fill="#ff4a00"/>
<rect x="382.80" y="241.92" width="3.52" height="1.97" fill="#00ffd3"/>
<rect x="382.80" y="238.08" width="3.52" height="1.97" fill="#00ffd3"/>
<rect x="382.80" y="243.84" width="3.52" height="1.97" fill="#00cfff"/>
<rect x="382.80" y="245.76" width="3.52" height="1.97" fill="#0073ff"/>
<rect x="382.80" y="249.60" width="3.52" height="1.97" fill="#0073ff"/>
<rect x="382.80" y="234.24" width="3.52" height="1.97" fill="#d900ff"/>
<rect x="382.80" y="253.44" width="3.52" height="1.97" fill="#d900ff"/>
<rect x="382.80" y="236.16" width="3.52" height="1.97" fill="#0073ff"/>
<rect x="382.80" y="228.48" width="3.52" height="1.97" fill="#d900ff"/>
<rect x="382.80" y="230.40" width="3.52" height="1.97" fill="#d900ff"/>
<rect x="386.26" y="241.92" width="3.52" height="1.97" fill="#fbff00"/>
<rect x="386.26" y="243.84" width="3.52" height="1.97" fill="#43ff00"/>
<rect x="386.26" y="240.00" width="3.52" height="1.97" fill="#00ffd3"/>
<rect x="386.26" y="245.76" width="3.52" height="1.97" fill="#0073ff"/>
<rect x="386.26" y="249.60" width="3.52" height="1.97" fill="#00cfff"/>
<rect x="386.26" y="238.08" width="3.52" height="1.97" fill="#5e00ff"/>
<rect x="386.26" y="255.36" width="3.52" height="1.97" fill="#d900ff"/>
<rect x="386.26" y="232.32" width="3.52" height="1.97" fill="#d900ff"/>
<rect x="386.26" y="236.16" width="3.52" height="1.97" fill="#5e00ff"/>
<rect x="386.26" y="230.40" width="3.52" height="1.97" fill="#5e00ff"/>
<rect x="386.26" y="251.52" width="3.52" height="1.97" fill="#5e00ff"/>
<rect x="386.26" y="247.68" width="3.52" height="1.97" fill="#d900ff"/>
<rect x="389.73" y="238.08" width="3.52" height="1.97" fill="#5e00ff"/>
<rect x="389.73" y="247.68" width="3.52" height="1.97" fill="#00ffd3"/>
<rect x="389.73" y="243.84" width="3.52" height="1.97" fill="#43ff00"/>
<rect x="389.73" y="241.92" width="3.52" height="1.97" fill="#00ffd3"/>
<rect x="389.73" y="245.76" width="3.52" height="1.97" fill="#00ffd3"/>
<rect x="389.73" y="251.52" width="3.52" height="1.97" fill="#0016ff"/>
<rect x="389.73" y="249.60" width="3.52" height="1.97" fill="#0073ff"/>
<rect x="389.73" y="255.36" width="3.52" height="1.97" fill="#5e00ff"/>
<rect x="389.73" y="232.32" width="3.52" height="1.97" fill="#5e00ff"/>
<rect x="389.73" y="240.00" width="3.52" height="1.97" fill="#0016ff"/>
<rect x="389.73" y="230.40" width="3.52" height="1.97" fill="#d900ff"/>
<rect x="389.73" y="257.28" width="3.52" height="1.97" fill="#5e00ff"/>
<rect x="393.20" y="240.00" width="3.52" height="1.97" fill="#0016ff"/>
<rect x="393.20" y="245.76" width="3.52" height="1.97" fill="#43ff00"/>
<rect x="393.20" y="243.84" width="3.52" height="1.97" fill="#43ff00"/>
<rect x="393.20" y="241.92" width="3.52" height="1.97" fill="#00cfff"/>
<rect x="393.20" y="247.68" width="3.52" height="1.97" fill="#00ffd3"/>
<rect x="393.20" y="249.60" width="3.52" height="1.97" fill="#0016ff"/>
<rect x="393.20" y="255.36" width="3.52" height="1.97" fill="#0016ff"/>
<rect x="393.20" y="234.24" width="3.52" height="1.97" fill="#d900ff"/>
<rect x="393.20" y="238.08" width="3.52" height="1.97" fill="#5e00ff"/>
<rect x="393.20" y="230.40" width="3.52" height="1.97" fill="#d900ff"/>
<rect x="393.20" y="251.52" width="3.52" height="1.97" fill="#5e00ff"/>
<rect x="393.20" y="259.20" width="3.52" height="1.97" fill="#d900ff"/>
<rect x="393.20" y="232.32" width="3.52" height="1.97" fill="#d900ff"/>
<rect x="396.67" y="241.92" width="3.52" height="1.97" fill="#0073ff"/>
<rect x="396.67" y="245.76" width="3.52" height="1.97" fill="#fbff00"/>
<rect x="396.67" y="243.84" width="3.52" height="1.97" fill="#00ff1a"/>
<rect x="396.67" y="247.68" width="3.52" height="1.97" fill="#00cfff"/>
<rect x="396.67" y="255.36" width="3.52" height="1.97" fill="#5e00ff"/>
<rect x="396.67" y="251.52" width="3.52" height="1.97" fill="#5e00ff"/>
<rect x="396.67" y="249.60" width="3.52" height="1.97" fill="#0073ff"/>
<rect x="396.67" y="238.08" width="3.52" height="1.97" fill="#d900ff"/>
<rect x="396.67" y="240.00" width="3.52" height="1.97" fill="#0073ff"/>
<rect x="396.67" y="259.20" width="3.52" height="1.97" fill="#5e00ff"/>
<rect x="396.67" y="232.32" width="3.52" height="1.97" fill="#5e00ff"/>
<rect x="396.67" y="234.24" width="3.52" height="1.97" fill="#d900ff"/>
<rect x="400.14" y="241.92" width="3.52" height="1.97" fill="#00cfff"/>
<rect x="400.14" y="243.84" width="3.52" height="1.97" fill="#fbff00"/>
<rect x="400.14" y="245.76" width="3.52" height="1.97" fill="#00ffd3"/>
<rect x="400.14" y="247.68" width="3.52" height="1.97" fill="#0073ff"/>
<rect x="400.14" y="257.28" width="3.52" height="1.97" fill="#0016ff"/>
<rect x="400.14" y="253.44" width="3.52" height="1.97" fill="#0016ff"/>
<rect x="400.14" y="251.52" width="3.52" height="1.97" fill="#d900ff"/>
<rect x="400.14" y="240.00" width="3.52" height="1.97" fill="#0073ff"/>
<rect x="400.14" y="234.24" width="3.52" height="1.97" fill="#d900ff"/>
<rect x="400.14" y="255.36" width="3.52" height="1.97" fill="#d900ff"/>
<rect x="400.14" y="238.08" width="3.52" height="1.97" fill="#5e00ff"/>
<rect x="400.14" y="230.40" width="3.52" height="1.97" fill="#d900ff"/>
<rect x="400.14" y="259.20" width="3.52" height="1.97" fill="#d900ff"/>
<rect x="400.14" y="236.16" width="3.52" height="1.97" fill="#d900ff"/>
<rect x="400.14" y="249.60" width="3.52" height="1.97" fill="#d900ff"/>
<rect x="400.14" y="232.32" width="3.52" height="1.97" fill="#d900ff"/>
<rect x="403.60" y="241.92" width="3.52" height="1.97" fill="#fbff00"/>
<rect x="403.60" y="243.84" width="3.52" height="1.97" fill="#43ff00"/>
<rect x="403.60" y="240.00" width="3.52" height="1.97" fill="#00ff76"/>
<rect x="403.60" y="245.76" width="3.52" height="1.97" fill="#0016ff"/>
<rect x="403.60" y="257.28" width="3.52" height="1.97" fill="#d900ff"/>
<rect x="403.60" y="247.68" width="3.52" height="1.97" fill="#d900ff"/>
<rect x="403.60" y="249.60" width="3.52" height="1.97" fill="#0016ff"/>
<rect x="403.60" y="238.08" width="3.52" height="1.97" fill="#5e00ff"/>
<rect x="403.60" y="232.32" width="3.52" height="1.97" fill="#d900ff"/>
<rect x="403.60" y="255.36" width="3.52" height="1.97" fill="#5e00ff"/>
<rect x="403.60" y="230.40" width="3.52" height="1.97" fill="#5e00ff"/>
<rect x="403.60" y="251.52" width="3.52" height="1.97" fill="#d900ff"/>
<rect x="403.60" y="253.44" width="3.52" height="1.97" fill="#5e00ff"/>
<rect x="403.60" y="234.24" width="3.52" height="1.97" fill="#d900ff"/>
<rect x="407.07" y="241.92" width="3.52" height="1.97" fill="#ffa600"/>
<rect x="407.07" y="238.08" width="3.52" height="1.97" fill="#0073ff"/>
<rect x="407.07" y="240.00" width="3.52" height="1.97" fill="#43ff00"/>
<rect x="407.07" y="243.84" width="3.52" height="1.97" fill="#00ffd3"/>
<rect x="407.07" y="253.44" width="3.52" height="1.97" fill="#5e00ff"/>
<rect x="407.07" y="245.76" width="3.52" height="1.97" fill="#0073ff"/>
<rect x="407.07" y="249.60" width="3.52" height="1.97" fill="#5e00ff"/>
<rect x="407.07" y="236.16" width="3.52" height="1.97" fill="#5e00ff"/>
<rect x="407.07" y="226.56" width="3.52" height="1.97" fill="#5e00ff"/>
<rect x="407.07" y="228.48" width="3.52" height="1.97" fill="#d900ff"/>
<rect x="407.07" y="251.52" width="3.52" height="1.97" fill="#d900ff"/>
<rect x="407.07" y="255.36" width="3.52" height="1.97" fill="#d900ff"/>
<rect x="410.54" y="241.92" width="3.52" height="1.97" fill="#00ff76"/>
<rect x="410.54" y="240.00" width="3.52" height="1.97" fill="#fbff00"/>
<rect x="410.54" y="238.08" width="3.52" height="1.97" fill="#fbff00"/>
<rect x="410.54" y="230.40" width="3.52" height="1.97" fill="#5e00ff"/>
<rect x="410.54" y="249.60" width="3.52" height="1.97" fill="#d900ff"/>
<rect x="410.54" y="245.76" width="3.52" height="1.97" fill="#0073ff"/>
<rect x="410.54" y="243.84" width="3.52" height="1.97" fill="#5e00ff"/>
<rect x="410.54" y="236.16" width="3.52" height="1.97" fill="#d900ff"/>
<rect x="410.54" y="234.24" width="3.52" height="1.97" fill="#d900ff"/>
<rect x="410.54" y="247.68" width="3.52" height="1.97" fill="#5e00ff"/>
<rect x="410.54" y="228.48" width="3.52" height="1.97" fill="#d900ff"/>
<rect x="410.54" y="253.44" width="3.52" height="1.97" fill="#d900ff"/>
<rect x="410.54" y="224.64" width="3.52" height="1.97" fill="#d900ff"/>
<rect x="410.54" y="226.56" width="3.52" height="1.97" fill="#d900ff"/>
<rect x="414.01" y="240.00" width="3.52" height="1.97" fill="#00ff1a"/>
<rect x="414.01" y="238.08" width="3.52" height="1.97" fill="#fbff00"/>
<rect x="414.01" y="234.24" width="3.52" height="1.97" fill="#0073ff"/>
<rect x="414.01" y="241.92" width="3.52" height="1.97" fill="#00cfff"/>
<rect x="414.01" y="236.16" width="3.52" height="1.97" fill="#00ff76"/>
<rect x="414.01" y="251.52" width="3.52" height="1.97" fill="#d900ff"/>
<rect x="414.01" y="243.84" width="3.52" height="1.97" fill="#0016ff"/>
<rect x="414.01" y="232.32" width="3.52" height="1.97" fill="#d900ff"/>
<rect x="414.01" y="245.76" width="3.52" height="1.97" fill="#d900ff"/>
<rect x="414.01" y="222.72" width="3.52" height="1.97" fill="#0016ff"/>
<rect x="414.01" y="249.60" width="3.52" height="1.97" fill="#d900ff"/>
<rect x="414.01" y="247.68" width="3.52" height="1.97" fill="#d900ff"/>
<rect x="417.48" y="236.16" width="3.52" height="1.97" fill="#ff0000"/>
<rect x="417.48" y="238.08" width="3.52" height="1.97" fill="#00ff76"/>
<rect x="417.48" y="226.56" width="3.52" height="1.97" fill="#d900ff"/>
<rect x="417.48" y="234.24" width="3.52" height="1.97" fill="#00ffd3"/>
<rect x="417.48" y="251.52" width="3.52" height="1.97" fill="#d900ff"/>
<rect x="417.48" y="240.00" width="3.52" height="1.97" fill="#00cfff"/>
<rect x="417.48" y="232.32" width="3.52" height="1.97" fill="#d900ff"/>
<rect x="417.48" y="228.48" width="3.52" height="1.97" fill="#d900ff"/>
<rect x="417.48" y="245.76" width="3.52" height="1.97" fill="#0016ff"/>
<rect x="417.48" y="220.80" width="3.52" height="1.97" fill="#0016ff"/>
<rect x="417.48" y="247.68" width="3.52" height="1.97" fill="#d900ff"/>
<rect x="417.48" y="243.84" width="3.52" height="1.97" fill="#d900ff"/>
<rect x="420.94" y="234.24" width="3.52" height="1.97" fill="#ff0000"/>
<rect x="420.94" y="236.16" width="3.52" height="1.97" fill="#00ff1a"/>
<rect x="420.94" y="228.48" width="3.52" height="1.97" fill="#d900ff"/>
<rect x="420.94" y="230.40" width="3.52" height="1.97" fill="#5e00ff"/>
<rect x="420.94" y="245.76" width="3.52" height="1.97" fill="#5e00ff"/>
<rect x="420.94" y="238.08" width="3.52" height="1.97" fill="#5e00ff"/>
<rect x="420.94" y="240.00" width="3.52" height="1.97" fill="#0016ff"/>
<rect x="420.94" y="232.32" width="3.52" height="1.97" fill="#0073ff"/>
<rect x="420.94" y="222.72" width="3.52" height="1.97" fill="#5e00ff"/>
<rect x="420.94" y="241.92" width="3.52" height="1.97" fill="#5e00ff"/>
<rect x="420.94" y="243.84" width="3.52" height="1.97" fill="#d900ff"/>
<rect x="420.94" y="220.80" width="3.52" height="1.97" fill="#5e00ff"/>
<rect x="420.94" y="251.52" width="3.52" height="1.97" fill="#d900ff"/>
<rect x="420.94" y="249.60" width="3.52" height="1.97" fill="#d900ff"/>
<rect x="424.41" y="232.32" width="3.52" height="1.97" fill="#ff0000"/>
<rect x="424.41" y="234.24" width="3.52" height="1.97" fill="#00ff76"/>
<rect x="424.41" y="226.56" width="3.52" height="1.97" fill="#d900ff"/>
<rect x="424.41" y="230.40" width="3.52" height="1.97" fill="#5e00ff"/>
<rect x="424.41" y="243.84" width="3.52" height="1.97" fill="#00cfff"/>
<rect x="424.41" y="236.16" width="3.52" height="1.97" fill="#00ff1a"/>
<rect x="424.41" y="218.88" width="3.52" height="1.97" fill="#d900ff"/>
<rect x="424.41" y="222.72" width="3.52" height="1.97" fill="#5e00ff"/>
<rect x="424.41" y="249.60" width="3.52" height="1.97" fill="#d900ff"/>
<rect x="424.41" y="245.76" width="3.52" height="1.97" fill="#d900ff"/>
<rect x="424.41" y="220.80" width="3.52" height="1.97" fill="#d900ff"/>
<rect x="424.41" y="228.48" width="3.52" height="1.97" fill="#d900ff"/>
<rect x="427.88" y="230.40" width="3.52" height="1.97" fill="#43ff00"/>
<rect x="427.88" y="232.32" width="3.52" height="1.97" fill="#ff0000"/>
<rect x="427.88" y="218.88" width="3.52" height="1.97" fill="#d900ff"/>
<rect x="427.88" y="234.24" width="3.52" height="1.97" fill="#00cfff"/>
<rect x="427.88" y="243.84" width="3.52" height="1.97" fill="#d900ff"/>
<rect x="427.88" y="240.00" width="3.52" height="1.97" fill="#d900ff"/>
<rect x="427.88" y="220.80" width="3.52" height="1.97" fill="#5e00ff"/>
<rect x="427.88" y="222.72" width="3.52" height="1.97" fill="#5e00ff"/>
<rect x="427.88" y="247.68" width="3.52" height="1.97" fill="#d900ff"/>
<rect x="427.88" y="236.16" width="3.52" height="1.97" fill="#5e00ff"/>
<rect x="427.88" y="249.60" width="3.52" height="1.97" fill="#d900ff"/>
<rect x="427.88" y="245.76" width="3.52" height="1.97" fill="#d900ff"/>
<rect x="427.88" y="228.48" width="3.52" height="1.97" fill="#0016ff"/>
<rect x="427.88" y="241.92" width="3.52" height="1.97" fill="#d900ff"/>
<rect x="427.88" y="226.56" width="3.52" height="1.97" fill="#d900ff"/>
<rect x="427.88" y="238.08" width="3.52" height="1.97" fill="#d900ff"/>
<rect x="431.35" y="230.40" width="3.52" height="1.97" fill="#9fff00"/>
<rect x="431.35" y="232.32" width="3.52" height="1.97" fill="#00ffd3"/>
<rect x="431.35" y="216.96" width="3.52" height="1.97" fill="#5e00ff"/>
<rect x="431.35" y="234.24" width="3.52" height="1.97" fill="#00cfff"/>
<rect x="431.35" y="228.48" width="3.52" height="1.97" fill="#fbff00"/>
<rect x="431.35" y="243.84" width="3.52" height="1.97" fill="#d900ff"/>
<rect x="431.35" y="236.16" width="3.52" height="1.97" fill="#d900ff"/>
<rect x="431.35" y="224.64" width="3.52" height="1.97" fill="#d900ff"/>
<rect x="431.35" y="215.04" width="3.52" height="1.97" fill="#d900ff"/>
<rect x="431.35" y="220.80" width="3.52" height="1.97" fill="#d900ff"/>
<rect x="431.35" y="245.76" width="3.52" height="1.97" fill="#d900ff"/>
<rect x="431.35" y="222.72" width="3.52" height="1.97" fill="#d900ff"/>
<rect x="431.35" y="247.68" width="3.52" height="1.97" fill="#5e00ff"/>
<rect x="431.35" y="240.00" width="3.52" height="1.97" fill="#d900ff"/>
<rect x="431.35" y="238.08" width="3.52" height="1.97" fill="#d900ff"/>
<rect x="431.35" y="226.56" width="3.52" height="1.97" fill="#d900ff"/>
<rect x="434.82" y="226.56" width="3.52" height="1.97" fill="#9fff00"/>
<rect x="434.82" y="228.48" width="3.52" height="1.97" fill="#43ff00"/>
<rect x="434.82" y="230.40" width="3.52" height="1.97" fill="#9fff00"/>
<rect x="434.82" y="232.32" width="3.52" height="1.97" fill="#00cfff"/>
<rect x="434.82" y="216.96" width="3.52" height="1.97" fill="#5e00ff"/>
<rect x="434.82" y="241.92" width="3.52" height="1.97" fill="#d900ff"/>
<rect x="434.82" y="218.88" width="3.52" height="1.97" fill="#5e00ff"/>
<rect x="434.82" y="215.04" width="3.52" height="1.97" fill="#d900ff"/>
<rect x="434.82" y="224.64" width="3.52" height="1.97" fill="#d900ff"/>
<rect x="434.82" y="243.84" width="3.52" height="1.97" fill="#d900ff"/>
<rect x="434.82" y="234.24" width="3.52" height="1.97" fill="#d900ff"/>
<rect x="434.82" y="245.76" width="3.52" height="1.97" fill="#5e00ff"/>
<rect x="434.82" y="236.16" width="3.52" height="1.97" fill="#d900ff"/>
<rect x="438.28" y="220.80" width="3.52" height="1.97" fill="#0016ff"/>
<rect x="438.28" y="228.48" width="3.52" height="1.97" fill="#9fff00"/>
<rect x="438.28" y="226.56" width="3.52" height="1.97" fill="#43ff00"/>
<rect x="438.28" y="230.40" width="3.52" height="1.97" fill="#00ffd3"/>
<rect x="438.28" y="218.88" width="3.52" height="1.97" fill="#0016ff"/>
<rect x="438.28" y="238.08" width="3.52" height="1.97" fill="#d900ff"/>
<rect x="438.28" y="224.64" width="3.52" height="1.97" fill="#00cfff"/>
<rect x="438.28" y="232.32" width="3.52" height="1.97" fill="#0016ff"/>
<rect x="438.28" y="243.84" width="3.52" height="1.97" fill="#5e00ff"/>
<rect x="438.28" y="213.12" width="3.52" height="1.97" fill="#d900ff"/>
<rect x="438.28" y="222.72" width="3.52" height="1.97" fill="#5e00ff"/>
<rect x="438.28" y="245.76" width="3.52" height="1.97" fill="#d900ff"/>
<rect x="441.75" y="220.80" width="3.52" height="1.97" fill="#0016ff"/>
<rect x="441.75" y="226.56" width="3.52" height="1.97" fill="#fbff00"/>
<rect x="441.75" y="228.48" width="3.52" height="1.97" fill="#00ff1a"/>
<rect x="441.75" y="218.88" width="3.52" height="1.97" fill="#d900ff"/>
<rect x="441.75" y="224.64" width="3.52" height="1.97" fill="#00ff76"/>
<rect x="441.75" y="240.00" width="3.52" height="1.97" fill="#5e00ff"/>
<rect x="441.75" y="216.96" width="3.52" height="1.97" fill="#0016ff"/>
<rect x="441.75" y="215.04" width="3.52" height="1.97" fill="#d900ff"/>
<rect x="441.75" y="230.40" width="3.52" height="1.97" fill="#5e00ff"/>
<rect x="441.75" y="222.72" width="3.52" height="1.97" fill="#0073ff"/>
<rect x="441.75" y="211.20" width="3.52" height="1.97" fill="#d900ff"/>
<rect x="441.75" y="243.84" width="3.52" height="1.97" fill="#d900ff"/>
<rect x="441.75" y="241.92" width="3.52" height="1.97" fill="#d900ff"/>
<rect x="441.75" y="232.32" width="3.52" height="1.97" fill="#d900ff"/>
<rect x="445.22" y="218.88" width="9.83" height="1.97" fill="#00cfff"/>
<rect x="445.22" y="222.72" width="9.83" height="1.97" fill="#fbff00"/>
<rect x="445.22" y="224.64" width="9.83" height="1.97" fill="#ffa600"/>
<rect x="445.22" y="226.56" width="9.83" height="1.97" fill="#0016ff"/>
<rect x="445.22" y="216.96" width="9.83" height="1.97" fill="#5e00ff"/>
<rect x="445.22" y="220.80" width="9.83" height="1.97" fill="#0073ff"/>
<rect x="445.22" y="238.08" width="9.83" height="1.97" fill="#5e00ff"/>
<rect x="445.22" y="228.48" width="9.83" height="1.97" fill="#d900ff"/>
<rect x="445.22" y="215.04" width="9.83" height="1.97" fill="#d900ff"/>
<rect x="445.22" y="207.36" width="9.83" height="1.97" fill="#d900ff"/>
<rect x="445.22" y="211.20" width="9.83" height="1.97" fill="#5e00ff"/>
<rect x="445.22" y="241.92" width="9.83" height="1.97" fill="#d900ff"/>
<rect x="445.22" y="240.00" width="9.83" height="1.97" fill="#d900ff"/>
<rect x="455.00" y="218.88" width="7.55" height="1.97" fill="#00ffd3"/>
<rect x="455.00" y="220.80" width="7.55" height="1.97" fill="#ff0000"/>
<rect x="455.00" y="222.72" width="7.55" height="1.97" fill="#00ff1a"/>
<rect x="455.00" y="213.12" width="7.55" height="1.97" fill="#d900ff"/>
<rect x="455.00" y="236.16" width="7.55" height="1.97" fill="#5e00ff"/>
<rect x="455.00" y="216.96" width="7.55" height="1.97" fill="#00ffd3"/>
<rect x="455.00" y="230.40" width="7.55" height="1.97" fill="#5e00ff"/>
<rect x="455.00" y="203.52" width="7.55" height="1.97" fill="#d900ff"/>
<rect x="455.00" y="207.36" width="7.55" height="1.97" fill="#d900ff"/>
<rect x="455.00" y="238.08" width="7.55" height="1.97" fill="#5e00ff"/>
<rect x="455.00" y="211.20" width="7.55" height="1.97" fill="#5e00ff"/>
<rect x="455.00" y="205.44" width="7.55" height="1.97" fill="#d900ff"/>
<rect x="462.50" y="215.04" width="7.55" height="1.97" fill="#00ff1a"/>
<rect x="462.50" y="218.88" width="7.55" height="1.97" fill="#00ffd3"/>
<rect x="462.50" y="220.80" width="7.55" height="1.97" fill="#00ff1a"/>
<rect x="462.50" y="224.64" width="7.55" height="1.97" fill="#0016ff"/>
<rect x="462.50" y="216.96" width="7.55" height="1.97" fill="#9fff00"/>
<rect x="462.50" y="234.24" width="7.55" height="1.97" fill="#5e00ff"/>
<rect x="462.50" y="222.72" width="7.55" height="1.97" fill="#5e00ff"/>
<rect x="462.50" y="201.60" width="7.55" height="1.97" fill="#d900ff"/>
<rect x="462.50" y="205.44" width="7.55" height="1.97" fill="#0016ff"/>
<rect x="462.50" y="236.16" width="7.55" height="1.97" fill="#5e00ff"/>
<rect x="462.50" y="228.48" width="7.55" height="1.97" fill="#d900ff"/>
<rect x="470.00" y="213.12" width="7.55" height="1.97" fill="#00ff1a"/>
<rect x="470.00" y="216.96" width="7.55" height="1.97" fill="#00cfff"/>
<rect x="470.00" y="218.88" width="7.55" height="1.97" fill="#00ff1a"/>
<rect x="470.00" y="220.80" width="7.55" height="1.97" fill="#0073ff"/>
<rect x="470.00" y="215.04" width="7.55" height="1.97" fill="#00ff76"/>
<rect x="470.00" y="232.32" width="7.55" height="1.97" fill="#5e00ff"/>
<rect x="470.00" y="228.48" width="7.55" height="1.97" fill="#d900ff"/>
<rect x="470.00" y="234.24" width="7.55" height="1.97" fill="#0016ff"/>
<rect x="470.00" y="211.20" width="7.55" height="1.97" fill="#d900ff"/>
<rect x="470.00" y="222.72" width="7.55" height="1.97" fill="#d900ff"/>
<rect x="470.00" y="205.44" width="7.55" height="1.97" fill="#0016ff"/>
<rect x="470.00" y="199.68" width="7.55" height="1.97" fill="#d900ff"/>
<rect x="470.00" y="207.36" width="7.55" height="1.97" fill="#d900ff"/>
<rect x="470.00" y="226.56" width="7.55" height="1.97" fill="#d900ff"/>
<rect x="477.50" y="209.28" width="12.85" height="1.97" fill="#43ff00"/>
<rect x="477.50" y="211.20" width="12.85" height="1.97" fill="#43ff00"/>
<rect x="477.50" y="213.12" width="12.85" height="1.97" fill="#d900ff"/>
<rect x="477.50" y="222.72" width="12.85" height="1.97" fill="#d900ff"/>
<rect x="477.50" y="215.04" width="12.85" height="1.97" fill="#00ff76"/>
<rect x="477.50" y="207.36" width="12.85" height="1.97" fill="#0073ff"/>
<rect x="477.50" y="228.48" width="12.85" height="1.97" fill="#5e00ff"/>
<rect x="477.50" y="218.88" width="12.85" height="1.97" fill="#d900ff"/>
<rect x="477.50" y="216.96" width="12.85" height="1.97" fill="#5e00ff"/>
<rect x="477.50" y="205.44" width="12.85" height="1.97" fill="#0016ff"/>
<rect x="477.50" y="224.64" width="12.85" height="1.97" fill="#0016ff"/>
<rect x="477.50" y="226.56" width="12.85" height="1.97" fill="#d900ff"/>
<rect x="477.50" y="193.92" width="12.85" height="1.97" fill="#d900ff"/>
<rect x="477.50" y="230.40" width="12.85" height="1.97" fill="#d900ff"/>
<rect x="477.50" y="199.68" width="12.85" height="1.97" fill="#d900ff"/>
<rect x="490.30" y="207.36" width="14.75" height="1.97" fill="#00cfff"/>
<rect x="490.30" y="209.28" width="14.75" height="1.97" fill="#00ffd3"/>
<rect x="490.30" y="205.44" width="14.75" height="1.97" fill="#00ffd3"/>
<rect x="490.30" y="211.20" width="14.75" height="1.97" fill="#00ff1a"/>
<rect x="490.30" y="216.96" width="14.75" height="1.97" fill="#0016ff"/>
<rect x="490.30" y="224.64" width="14.75" height="1.97" fill="#0073ff"/>
<rect x="490.30" y="215.04" width="14.75" height="1.97" fill="#d900ff"/>
<rect x="490.30" y="213.12" width="14.75" height="1.97" fill="#5e00ff"/>
<rect x="490.30" y="201.60" width="14.75" height="1.97" fill="#0016ff"/>
<rect x="490.30" y="203.52" width="14.75" height="1.97" fill="#0016ff"/>
<rect x="490.30" y="192.00" width="14.75" height="1.97" fill="#d900ff"/>
<rect x="490.30" y="228.48" width="14.75" height="1.97" fill="#d900ff"/>
<rect x="490.30" y="226.56" width="14.75" height="1.97" fill="#d900ff"/>
<rect x="490.30" y="199.68" width="14.75" height="1.97" fill="#d900ff"/>
<rect x="490.30" y="218.88" width="14.75" height="1.97" fill="#d900ff"/>
<rect x="505.00" y="197.76" width="17.85" height="1.97" fill="#5e00ff"/>
<rect x="505.00" y="199.68" width="17.85" height="1.97" fill="#9fff00"/>
<rect x="505.00" y="201.60" width="17.85" height="1.97" fill="#00ffd3"/>
<rect x="505.00" y="203.52" width="17.85" height="1.97" fill="#00ffd3"/>
<rect x="505.00" y="216.96" width="17.85" height="1.97" fill="#5e00ff"/>
<rect x="505.00" y="195.84" width="17.85" height="1.97" fill="#0073ff"/>
<rect x="505.00" y="209.28" width="17.85" height="1.97" fill="#0016ff"/>
<rect x="505.00" y="190.08" width="17.85" height="1.97" fill="#d900ff"/>
<rect x="505.00" y="207.36" width="17.85" height="1.97" fill="#5e00ff"/>
<rect x="505.00" y="215.04" width="17.85" height="1.97" fill="#d900ff"/>
<rect x="505.00" y="182.40" width="17.85" height="1.97" fill="#d900ff"/>
<rect x="505.00" y="220.80" width="17.85" height="1.97" fill="#5e00ff"/>
<rect x="505.00" y="205.44" width="17.85" height="1.97" fill="#d900ff"/>
<rect x="505.00" y="213.12" width="17.85" height="1.97" fill="#d900ff"/>
<rect x="505.00" y="192.00" width="17.85" height="1.97" fill="#d900ff"/>
<rect x="505.00" y="184.32" width="17.85" height="1.97" fill="#d900ff"/>
<rect x="505.00" y="211.20" width="17.85" height="1.97" fill="#d900ff"/>
<rect x="505.00" y="188.16" width="17.85" height="1.97" fill="#d900ff"/>
</g>
<path d="M77.50 48.0V336.0M105.50 48.0V336.0M121.50 48.0V336.0M132.50 48.0V336.0M141.50 48.0V336.0M149.50 48.0V336.0M155.50 48.0V336.0M160.50 48.0V336.0M165.50 48.0V336.0M169.50 48.0V336.0M197.50 48.0V336.0M213.50 48.0V336.0M224.50 48.0V336.0M233.50 48.0V336.0M241.50 48.0V336.0M247.50 48.0V336.0M252.50 48.0V336.0M257.50 48.0V336.0M261.50 48.0V336.0M289.50 48.0V336.0M305.50 48.0V336.0M317.50 48.0V336.0M326.50 48.0V336.0M333.50 48.0V336.0M339.50 48.0V336.0M344.50 48.0V336.0M349.50 48.0V336.0M353.50 48.0V336.0M381.50 48.0V336.0M397.50 48.0V336.0M409.50 48.0V336.0M418.50 48.0V336.0M425.50 48.0V336.0M431.50 48.0V336.0M437.50 48.0V336.0M441.50 48.0V336.0M445.50 48.0V336.0M473.50 48.0V336.0M489.50 48.0V336.0M501.50 48.0V336.0M510.50 48.0V336.0M517.50 48.0V336.0M523.50 48.0V336.0M529.50 48.0V336.0M533.50 48.0V336.0M538.50 48.0V336.0M76.8 336.50H537.6M76.8 298.50H537.6M76.8 259.50H537.6M76.8 221.50H537.6M76.8 182.50H537.6M76.8 144.50H537.6M76.8 106.50H537.6M76.8 67.50H537.6" stroke="#b0b0b0" stroke-width="1.11" fill="none"/>
<g clip-path="url(#ac)" fill="none" stroke-linejoin="round">
<polyline points="168.96,127.68 200.52,139.02 215.51,164.16 252.19,182.40 314.55,140.16 322.20,137.28 334.79,145.92 343.85,169.91 370.56,182.40 381.02,217.91 496.13,193.93 551.07,157.72" stroke="#666" stroke-width="2.78" stroke-linecap="square"/>
<polyline points="168.96,274.56 190.20,272.06 224.45,272.06 252.19,276.87 269.73,266.30 296.16,237.40 319.50,222.91 325.54,222.90 332.83,238.08 353.28,266.40 360.58,271.19 371.08,263.29 384.66,292.81 399.33,307.19 413.48,312.00 431.16,312.00 445.84,307.20 462.72,307.18 492.98,311.98 517.15,306.01 551.07,287.22" stroke="#666" stroke-width="2.78" stroke-linecap="square"/>
<polyline points="103.10,215.00 107.50,208.75 111.25,207.50 118.10,205.00 121.90,196.90 125.00,191.90 128.75,193.75 132.50,198.75 135.60,202.25 138.75,203.50 142.50,206.25 146.25,208.50 150.00,209.40 157.50,209.40 165.00,208.10 177.50,206.90 190.00,201.90 197.50,198.10 205.00,196.25 215.00,197.50 227.50,200.60 245.00,203.75 255.00,204.50 262.50,202.50 270.00,198.75 280.00,193.00 290.00,188.00 300.00,185.50 315.00,185.00 330.00,183.75 338.75,183.75 343.75,187.50 350.00,196.25 357.50,212.50 363.75,227.50 367.50,232.50 375.00,236.25 385.00,242.50 391.60,246.50 398.60,246.50 411.25,241.70 425.30,235.25 439.40,228.50 453.40,222.90 467.50,219.20 475.90,217.25 478.75,213.60 490.00,212.20 492.80,210.20 504.00,210.20 506.90,202.30 522.30,202.30" stroke="#000" stroke-width="2.3"/>
</g>
<path d="M77.50 336.5v4.86M169.50 336.5v4.86M261.50 336.5v4.86M353.50 336.5v4.86M445.50 336.5v4.86M538.50 336.5v4.86M77.5 336.50h-4.86M77.5 298.50h-4.86M77.5 259.50h-4.86M77.5 221.50h-4.86M77.5 182.50h-4.86M77.5 144.50h-4.86M77.5 106.50h-4.86M77.5 67.50h-4.86" stroke="#000" stroke-width="1.11" fill="none"/>
<path d="M105.50 336.5v2.78M121.50 336.5v2.78M132.50 336.5v2.78M141.50 336.5v2.78M149.50 336.5v2.78M155.50 336.5v2.78M160.50 336.5v2.78M165.50 336.5v2.78M197.50 336.5v2.78M213.50 336.5v2.78M224.50 336.5v2.78M233.50 336.5v2.78M241.50 336.5v2.78M247.50 336.5v2.78M252.50 336.5v2.78M257.50 336.5v2.78M289.50 336.5v2.78M305.50 336.5v2.78M317.50 336.5v2.78M326.50 336.5v2.78M333.50 336.5v2.78M339.50 336.5v2.78M344.50 336.5v2.78M349.50 336.5v2.78M381.50 336.5v2.78M397.50 336.5v2.78M409.50 336.5v2.78M418.50 336.5v2.78M425.50 336.5v2.78M431.50 336.5v2.78M437.50 336.5v2.78M441.50 336.5v2.78M473.50 336.5v2.78M489.50 336.5v2.78M501.50 336.5v2.78M510.50 336.5v2.78M517.50 336.5v2.78M523.50 336.5v2.78M529.50 336.5v2.78M533.50 336.5v2.78" stroke="#000" stroke-width="0.83" fill="none"/>
<rect x="77.5" y="48.5" width="461.0" height="288.0" fill="none" stroke="#000" stroke-width="1.11"/>
<text x="65.9" y="341.40" text-anchor="end" letter-spacing="-0.45">−200</text>
<text x="65.9" y="303.00" text-anchor="end" letter-spacing="-0.45">−180</text>
<text x="65.9" y="264.60" text-anchor="end" letter-spacing="-0.45">−160</text>
<text x="65.9" y="226.20" text-anchor="end" letter-spacing="-0.45">−140</text>
<text x="65.9" y="187.80" text-anchor="end" letter-spacing="-0.45">−120</text>
<text x="65.9" y="149.40" text-anchor="end" letter-spacing="-0.45">−100</text>
<text x="65.9" y="111.00" text-anchor="end" letter-spacing="-0.45">−80</text>
<text x="65.9" y="72.60" text-anchor="end" letter-spacing="-0.45">−60</text>
<text x="77.30" y="357.0" text-anchor="middle" letter-spacing="-0.35">0.01</text>
<text x="169.46" y="357.0" text-anchor="middle" letter-spacing="-0.35">0.1</text>
<text x="261.62" y="357.0" text-anchor="middle" letter-spacing="-0.35">1</text>
<text x="353.78" y="357.0" text-anchor="middle" letter-spacing="-0.35">10</text>
<text x="445.94" y="357.0" text-anchor="middle" letter-spacing="-0.35">100</text>
<text x="538.10" y="357.0" text-anchor="middle" letter-spacing="-0.35">1000</text>
<text x="307.20" y="375.9" text-anchor="middle">Period [s]</text>
<g transform="translate(16.6,0) rotate(-90)"><text x="-269.6" y="0">Power [</text><text x="-217.87" y="0" font-style="italic">m</text><text x="-202.19" y="-5.3" font-size="9.72px">2</text><text x="-196.0" y="0" font-style="italic">/s</text><text x="-182.6" y="-5.3" font-size="9.72px">4</text><text x="-177.91" y="0" font-style="italic">/Hz</text><text x="-154.32" y="0">] [dB]</text></g>
<g font-size="12.5px" text-anchor="middle">
<text x="305.30" y="10" xml:space="preserve">BK.BK80.00.HHE   2019-02-07 -- 2019-02-07  (46/46 segments)</text>
<text x="307.20" y="24.6">sensor_type CMG-3T sensor_sn T310034</text>
<text x="307.20" y="39.6">datalogger_type GuralpMinimus+ datalogger_sn MINP-DF59</text>
</g>
<rect x="566.4" y="247.0" width="4.800000000000068" height="89.0" fill="url(#cg)"/>
<rect x="566.1" y="246.9" width="5.400000000000068" height="1.2" fill="#f00"/>
<rect x="566.4" y="248.5" width="4.800000000000068" height="88.0" fill="none" stroke="#000" stroke-width="1.11"/>
<text x="591.2" y="341.70" letter-spacing="-0.8">0</text>
<text x="591.2" y="327.03" letter-spacing="-0.8">5</text>
<text x="591.2" y="312.37" letter-spacing="-0.8">10</text>
<text x="591.2" y="297.70" letter-spacing="-0.8">15</text>
<text x="591.2" y="283.03" letter-spacing="-0.8">20</text>
<text x="591.2" y="268.37" letter-spacing="-0.8">25</text>
<text x="591.2" y="253.70" letter-spacing="-0.8">30</text>
<path d="M581.6 336.50h4.86M581.6 321.50h4.86M581.6 307.50h4.86M581.6 292.50h4.86M581.6 277.50h4.86M581.6 263.50h4.86M581.6 248.50h4.86" stroke="#000" stroke-width="1.11" fill="none"/>
<text transform="translate(625.3,195) rotate(-90)" text-anchor="middle">[%]</text>
<rect x="116.25" y="379.2" width="408.0" height="7.68" fill="#008000"/>
<rect x="116.25" y="386.88" width="398.95000000000005" height="11.52" fill="#0000ff"/>
<rect x="96.5" y="379.5" width="448.0" height="19.0" fill="none" stroke="#000" stroke-width="1.11"/>
<text transform="translate(114.75,417.00) rotate(-30)" text-anchor="end">02-07 00</text>
<text transform="translate(165.75,417.00) rotate(-30)" text-anchor="end">02-07 03</text>
<text transform="translate(216.75,417.00) rotate(-30)" text-anchor="end">02-07 06</text>
<text transform="translate(267.75,417.00) rotate(-30)" text-anchor="end">02-07 09</text>
<text transform="translate(318.75,417.00) rotate(-30)" text-anchor="end">02-07 12</text>
<text transform="translate(369.75,417.00) rotate(-30)" text-anchor="end">02-07 15</text>
<text transform="translate(420.75,417.00) rotate(-30)" text-anchor="end">02-07 18</text>
<text transform="translate(471.75,417.00) rotate(-30)" text-anchor="end">02-07 21</text>
<text transform="translate(522.75,417.00) rotate(-30)" text-anchor="end">02-08 00</text>
<path d="M116.50 398.5v4.86M167.50 398.5v4.86M218.50 398.5v4.86M269.50 398.5v4.86M320.50 398.5v4.86M371.50 398.5v4.86M422.50 398.5v4.86M473.50 398.5v4.86M524.50 398.5v4.86" stroke="#000" stroke-width="1.11" fill="none"/>
</svg>
</body></html>
